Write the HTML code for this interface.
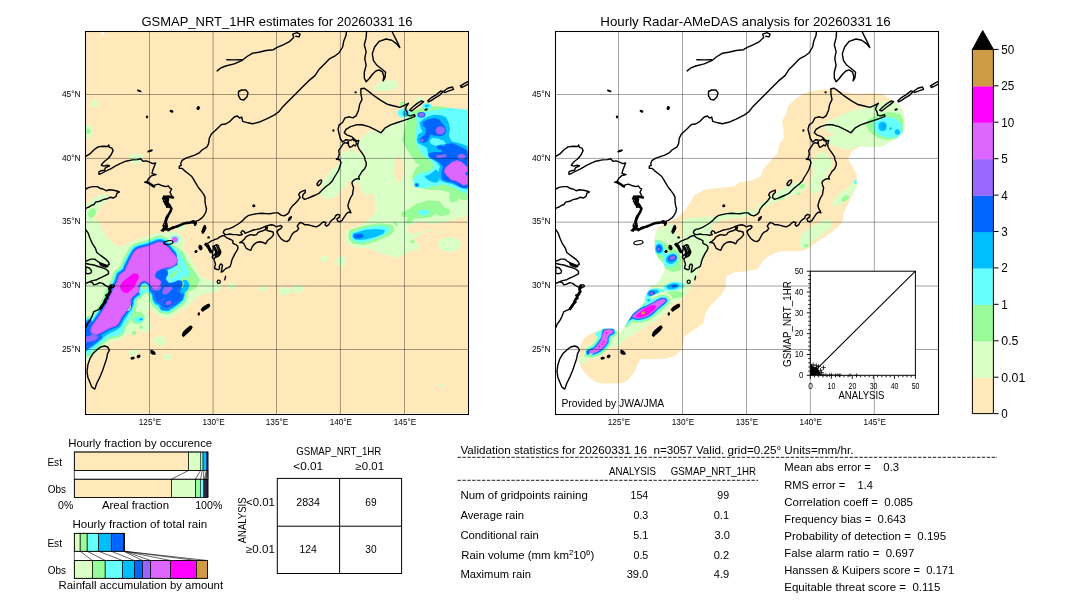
<!DOCTYPE html>
<html><head><meta charset="utf-8"><title>GSMAP_NRT_1HR validation 20260331 16</title>
<style>html,body{margin:0;padding:0;background:#fff}body{width:1080px;height:612px;overflow:hidden;font-family:"Liberation Sans", sans-serif}svg{display:block;will-change:transform;opacity:0.9999}text{white-space:pre}</style>
</head><body>
<svg width="1080" height="612" viewBox="0 0 1080 612" font-family='"Liberation Sans", sans-serif' fill="#000">
<rect width="1080" height="612" fill="#fff"/>
<clipPath id="cl"><rect x="85.5" y="31.5" width="383.0" height="383.0"/></clipPath><clipPath id="cld"><rect x="85.5" y="31.5" width="382.2" height="381.9"/></clipPath>
<clipPath id="cr"><rect x="555.5" y="31.5" width="383.0" height="383.0"/></clipPath>
<rect x="85.5" y="31.5" width="382.2" height="381.9" fill="#ffe8ba"/>
<g clip-path="url(#cld)">
<polygon points="85.5,215.0 92.0,216.0 99.0,222.0 103.0,231.0 110.0,240.0 118.0,247.0 128.0,244.0 140.0,241.0 152.0,237.0 162.0,234.0 172.0,231.0 180.0,233.0 184.0,240.0 184.0,249.0 190.0,258.0 196.0,268.0 200.0,277.0 212.0,281.0 222.0,284.0 220.0,291.0 208.0,293.0 198.0,296.0 192.0,303.0 184.0,309.0 174.0,313.0 165.0,315.0 155.0,313.0 151.0,308.0 148.0,312.0 150.0,320.0 152.0,328.0 146.0,333.0 140.0,331.0 134.0,330.0 128.0,334.0 120.0,338.0 112.0,341.0 104.0,346.0 96.0,352.0 90.0,358.0 85.5,362.0" fill="#d9ffc6"/>
<ellipse cx="160.0" cy="341.0" rx="6.0" ry="5.0" fill="#d9ffc6"/>
<ellipse cx="232.0" cy="286.0" rx="4.0" ry="3.5" fill="#d9ffc6"/>
<ellipse cx="168.0" cy="357.0" rx="4.0" ry="3.0" fill="#d9ffc6"/>
<ellipse cx="133.0" cy="352.5" rx="4.5" ry="3.0" fill="#d9ffc6"/>
<polygon points="119.3,275.0 117.0,281.9 114.2,287.6 110.7,294.4 107.9,301.3 104.4,308.2 99.9,315.0 95.3,321.9 91.9,326.5 90.7,329.9 91.3,333.3 96.4,334.5 102.2,332.2 107.9,328.8 112.5,327.0 117.0,325.3 119.3,321.9 121.6,317.3 125.0,312.7 129.0,308.2 130.8,303.6 130.8,299.6 133.0,296.2 137.0,293.3 139.9,289.9 138.2,285.9 141.0,281.9 144.5,280.9 148.0,282.5 150.3,284.7 152.6,287.6 155.4,289.3 158.3,288.2 160.0,285.3 161.2,281.9 158.9,279.6 155.4,277.9 154.9,274.4 157.2,271.0 161.7,268.7 166.3,267.6 170.9,267.0 174.3,265.3 177.2,261.9 177.6,259.3 175.3,255.9 171.9,251.9 168.5,247.9 164.5,243.9 161.6,242.2 158.2,242.2 153.6,243.9 147.9,246.2 141.0,247.9 136.4,249.6 134.2,251.9 130.7,258.2 127.3,265.0 125.0,270.8" fill="#d9ffc6" stroke="#d9ffc6" stroke-width="19" stroke-linejoin="round"/>
<polygon points="157.2,271.0 161.7,268.7 167.5,269.9 168.0,274.4 165.7,277.9 165.7,281.3 169.7,283.0 174.3,281.9 177.7,280.2 181.7,280.7 182.9,283.6 181.7,287.0 178.9,289.3 176.6,291.6 179.5,292.2 181.7,294.5 180.6,298.5 176.6,301.9 172.0,305.3 167.5,308.2 162.9,307.6 161.2,304.2 162.9,300.8 165.7,298.5 162.9,299.0 159.4,301.3 157.2,301.9 155.4,298.5 154.9,293.9 152.6,290.5 151.4,288.2 155.4,289.3 158.3,288.2 160.0,285.3 161.2,281.9 158.9,279.6 155.4,277.9 154.9,274.4" fill="#d9ffc6" stroke="#d9ffc6" stroke-width="19" stroke-linejoin="round"/>
<polygon points="85.5,326.0 89.0,322.0 92.0,325.5 90.5,330.0 92.0,334.0 97.5,335.5 100.0,337.0 95.0,341.0 90.0,345.0 85.5,348.0" fill="#d9ffc6" stroke="#d9ffc6" stroke-width="19" stroke-linejoin="round"/>
<polygon points="86.0,348.2 90.9,346.3 95.8,342.4 100.7,338.4 105.6,334.5 110.5,332.1 115.4,329.6 119.3,326.7 122.3,322.7 126.2,317.8 129.1,312.9 131.1,310.0 134.0,310.0 131.1,315.9 128.1,320.8 124.2,326.7 122.3,332.5 118.3,335.5 113.4,336.5 108.5,337.5 104.6,340.4 99.7,344.3 94.8,349.2 89.9,353.1 86.0,355.1" fill="#d9ffc6" stroke="#d9ffc6" stroke-width="9" stroke-linejoin="round"/>
<polygon points="119.3,275.0 117.0,281.9 114.2,287.6 110.7,294.4 107.9,301.3 104.4,308.2 99.9,315.0 95.3,321.9 91.9,326.5 90.7,329.9 91.3,333.3 96.4,334.5 102.2,332.2 107.9,328.8 112.5,327.0 117.0,325.3 119.3,321.9 121.6,317.3 125.0,312.7 129.0,308.2 130.8,303.6 130.8,299.6 133.0,296.2 137.0,293.3 139.9,289.9 138.2,285.9 141.0,281.9 144.5,280.9 148.0,282.5 150.3,284.7 152.6,287.6 155.4,289.3 158.3,288.2 160.0,285.3 161.2,281.9 158.9,279.6 155.4,277.9 154.9,274.4 157.2,271.0 161.7,268.7 166.3,267.6 170.9,267.0 174.3,265.3 177.2,261.9 177.6,259.3 175.3,255.9 171.9,251.9 168.5,247.9 164.5,243.9 161.6,242.2 158.2,242.2 153.6,243.9 147.9,246.2 141.0,247.9 136.4,249.6 134.2,251.9 130.7,258.2 127.3,265.0 125.0,270.8" fill="#99fb98" stroke="#99fb98" stroke-width="12.4" stroke-linejoin="round"/>
<polygon points="157.2,271.0 161.7,268.7 167.5,269.9 168.0,274.4 165.7,277.9 165.7,281.3 169.7,283.0 174.3,281.9 177.7,280.2 181.7,280.7 182.9,283.6 181.7,287.0 178.9,289.3 176.6,291.6 179.5,292.2 181.7,294.5 180.6,298.5 176.6,301.9 172.0,305.3 167.5,308.2 162.9,307.6 161.2,304.2 162.9,300.8 165.7,298.5 162.9,299.0 159.4,301.3 157.2,301.9 155.4,298.5 154.9,293.9 152.6,290.5 151.4,288.2 155.4,289.3 158.3,288.2 160.0,285.3 161.2,281.9 158.9,279.6 155.4,277.9 154.9,274.4" fill="#99fb98" stroke="#99fb98" stroke-width="12.4" stroke-linejoin="round"/>
<polygon points="85.5,326.0 89.0,322.0 92.0,325.5 90.5,330.0 92.0,334.0 97.5,335.5 100.0,337.0 95.0,341.0 90.0,345.0 85.5,348.0" fill="#99fb98" stroke="#99fb98" stroke-width="12.4" stroke-linejoin="round"/>
<polygon points="86.0,348.2 90.9,346.3 95.8,342.4 100.7,338.4 105.6,334.5 110.5,332.1 115.4,329.6 119.3,326.7 122.3,322.7 126.2,317.8 129.1,312.9 131.1,310.0 134.0,310.0 131.1,315.9 128.1,320.8 124.2,326.7 122.3,332.5 118.3,335.5 113.4,336.5 108.5,337.5 104.6,340.4 99.7,344.3 94.8,349.2 89.9,353.1 86.0,355.1" fill="#99fb98" stroke="#99fb98" stroke-width="4" stroke-linejoin="round"/>
<polygon points="119.3,275.0 117.0,281.9 114.2,287.6 110.7,294.4 107.9,301.3 104.4,308.2 99.9,315.0 95.3,321.9 91.9,326.5 90.7,329.9 91.3,333.3 96.4,334.5 102.2,332.2 107.9,328.8 112.5,327.0 117.0,325.3 119.3,321.9 121.6,317.3 125.0,312.7 129.0,308.2 130.8,303.6 130.8,299.6 133.0,296.2 137.0,293.3 139.9,289.9 138.2,285.9 141.0,281.9 144.5,280.9 148.0,282.5 150.3,284.7 152.6,287.6 155.4,289.3 158.3,288.2 160.0,285.3 161.2,281.9 158.9,279.6 155.4,277.9 154.9,274.4 157.2,271.0 161.7,268.7 166.3,267.6 170.9,267.0 174.3,265.3 177.2,261.9 177.6,259.3 175.3,255.9 171.9,251.9 168.5,247.9 164.5,243.9 161.6,242.2 158.2,242.2 153.6,243.9 147.9,246.2 141.0,247.9 136.4,249.6 134.2,251.9 130.7,258.2 127.3,265.0 125.0,270.8" fill="#66ffff" stroke="#66ffff" stroke-width="9" stroke-linejoin="round"/>
<polygon points="157.2,271.0 161.7,268.7 167.5,269.9 168.0,274.4 165.7,277.9 165.7,281.3 169.7,283.0 174.3,281.9 177.7,280.2 181.7,280.7 182.9,283.6 181.7,287.0 178.9,289.3 176.6,291.6 179.5,292.2 181.7,294.5 180.6,298.5 176.6,301.9 172.0,305.3 167.5,308.2 162.9,307.6 161.2,304.2 162.9,300.8 165.7,298.5 162.9,299.0 159.4,301.3 157.2,301.9 155.4,298.5 154.9,293.9 152.6,290.5 151.4,288.2 155.4,289.3 158.3,288.2 160.0,285.3 161.2,281.9 158.9,279.6 155.4,277.9 154.9,274.4" fill="#66ffff" stroke="#66ffff" stroke-width="9" stroke-linejoin="round"/>
<polygon points="85.5,326.0 89.0,322.0 92.0,325.5 90.5,330.0 92.0,334.0 97.5,335.5 100.0,337.0 95.0,341.0 90.0,345.0 85.5,348.0" fill="#66ffff" stroke="#66ffff" stroke-width="9" stroke-linejoin="round"/>
<polygon points="86.0,348.2 90.9,346.3 95.8,342.4 100.7,338.4 105.6,334.5 110.5,332.1 115.4,329.6 119.3,326.7 122.3,322.7 126.2,317.8 129.1,312.9 131.1,310.0 134.0,310.0 131.1,315.9 128.1,320.8 124.2,326.7 122.3,332.5 118.3,335.5 113.4,336.5 108.5,337.5 104.6,340.4 99.7,344.3 94.8,349.2 89.9,353.1 86.0,355.1" fill="#66ffff"/>
<polygon points="119.3,275.0 117.0,281.9 114.2,287.6 110.7,294.4 107.9,301.3 104.4,308.2 99.9,315.0 95.3,321.9 91.9,326.5 90.7,329.9 91.3,333.3 96.4,334.5 102.2,332.2 107.9,328.8 112.5,327.0 117.0,325.3 119.3,321.9 121.6,317.3 125.0,312.7 129.0,308.2 130.8,303.6 130.8,299.6 133.0,296.2 137.0,293.3 139.9,289.9 138.2,285.9 141.0,281.9 144.5,280.9 148.0,282.5 150.3,284.7 152.6,287.6 155.4,289.3 158.3,288.2 160.0,285.3 161.2,281.9 158.9,279.6 155.4,277.9 154.9,274.4 157.2,271.0 161.7,268.7 166.3,267.6 170.9,267.0 174.3,265.3 177.2,261.9 177.6,259.3 175.3,255.9 171.9,251.9 168.5,247.9 164.5,243.9 161.6,242.2 158.2,242.2 153.6,243.9 147.9,246.2 141.0,247.9 136.4,249.6 134.2,251.9 130.7,258.2 127.3,265.0 125.0,270.8" fill="#00bfff" stroke="#00bfff" stroke-width="6.2" stroke-linejoin="round"/>
<polygon points="157.2,271.0 161.7,268.7 167.5,269.9 168.0,274.4 165.7,277.9 165.7,281.3 169.7,283.0 174.3,281.9 177.7,280.2 181.7,280.7 182.9,283.6 181.7,287.0 178.9,289.3 176.6,291.6 179.5,292.2 181.7,294.5 180.6,298.5 176.6,301.9 172.0,305.3 167.5,308.2 162.9,307.6 161.2,304.2 162.9,300.8 165.7,298.5 162.9,299.0 159.4,301.3 157.2,301.9 155.4,298.5 154.9,293.9 152.6,290.5 151.4,288.2 155.4,289.3 158.3,288.2 160.0,285.3 161.2,281.9 158.9,279.6 155.4,277.9 154.9,274.4" fill="#00bfff" stroke="#00bfff" stroke-width="6.2" stroke-linejoin="round"/>
<polygon points="85.5,326.0 89.0,322.0 92.0,325.5 90.5,330.0 92.0,334.0 97.5,335.5 100.0,337.0 95.0,341.0 90.0,345.0 85.5,348.0" fill="#00bfff" stroke="#00bfff" stroke-width="6.2" stroke-linejoin="round"/>
<polygon points="86.0,343.3 90.9,342.8 95.8,339.4 99.7,336.5 104.6,333.0 109.5,330.1 114.4,328.1 118.3,325.7 120.3,321.8 124.2,316.9 127.2,312.0 128.1,310.0 130.1,310.0 127.2,315.9 123.7,321.3 121.3,326.2 117.4,329.6 112.5,332.1 107.5,334.5 102.6,337.9 97.7,341.4 92.8,345.3 87.9,347.7 86.0,348.7" fill="#00bfff"/>
<polygon points="119.3,275.0 117.0,281.9 114.2,287.6 110.7,294.4 107.9,301.3 104.4,308.2 99.9,315.0 95.3,321.9 91.9,326.5 90.7,329.9 91.3,333.3 96.4,334.5 102.2,332.2 107.9,328.8 112.5,327.0 117.0,325.3 119.3,321.9 121.6,317.3 125.0,312.7 129.0,308.2 130.8,303.6 130.8,299.6 133.0,296.2 137.0,293.3 139.9,289.9 138.2,285.9 141.0,281.9 144.5,280.9 148.0,282.5 150.3,284.7 152.6,287.6 155.4,289.3 158.3,288.2 160.0,285.3 161.2,281.9 158.9,279.6 155.4,277.9 154.9,274.4 157.2,271.0 161.7,268.7 166.3,267.6 170.9,267.0 174.3,265.3 177.2,261.9 177.6,259.3 175.3,255.9 171.9,251.9 168.5,247.9 164.5,243.9 161.6,242.2 158.2,242.2 153.6,243.9 147.9,246.2 141.0,247.9 136.4,249.6 134.2,251.9 130.7,258.2 127.3,265.0 125.0,270.8" fill="#0066ff" stroke="#0066ff" stroke-width="3.8" stroke-linejoin="round"/>
<polygon points="157.2,271.0 161.7,268.7 167.5,269.9 168.0,274.4 165.7,277.9 165.7,281.3 169.7,283.0 174.3,281.9 177.7,280.2 181.7,280.7 182.9,283.6 181.7,287.0 178.9,289.3 176.6,291.6 179.5,292.2 181.7,294.5 180.6,298.5 176.6,301.9 172.0,305.3 167.5,308.2 162.9,307.6 161.2,304.2 162.9,300.8 165.7,298.5 162.9,299.0 159.4,301.3 157.2,301.9 155.4,298.5 154.9,293.9 152.6,290.5 151.4,288.2 155.4,289.3 158.3,288.2 160.0,285.3 161.2,281.9 158.9,279.6 155.4,277.9 154.9,274.4" fill="#0066ff" stroke="#0066ff" stroke-width="3.8" stroke-linejoin="round"/>
<polygon points="85.5,326.0 89.0,322.0 92.0,325.5 90.5,330.0 92.0,334.0 97.5,335.5 100.0,337.0 95.0,341.0 90.0,345.0 85.5,348.0" fill="#0066ff" stroke="#0066ff" stroke-width="3.8" stroke-linejoin="round"/>
<polygon points="119.3,275.0 117.0,281.9 114.2,287.6 110.7,294.4 107.9,301.3 104.4,308.2 99.9,315.0 95.3,321.9 91.9,326.5 90.7,329.9 91.3,333.3 96.4,334.5 102.2,332.2 107.9,328.8 112.5,327.0 117.0,325.3 119.3,321.9 121.6,317.3 125.0,312.7 129.0,308.2 130.8,303.6 130.8,299.6 133.0,296.2 137.0,293.3 139.9,289.9 138.2,285.9 141.0,281.9 144.5,280.9 148.0,282.5 150.3,284.7 152.6,287.6 155.4,289.3 158.3,288.2 160.0,285.3 161.2,281.9 158.9,279.6 155.4,277.9 154.9,274.4 157.2,271.0 161.7,268.7 166.3,267.6 170.9,267.0 174.3,265.3 177.2,261.9 177.6,259.3 175.3,255.9 171.9,251.9 168.5,247.9 164.5,243.9 161.6,242.2 158.2,242.2 153.6,243.9 147.9,246.2 141.0,247.9 136.4,249.6 134.2,251.9 130.7,258.2 127.3,265.0 125.0,270.8" fill="#9966ff" stroke="#9966ff" stroke-width="1.0" stroke-linejoin="round"/>
<polygon points="157.2,271.0 161.7,268.7 167.5,269.9 168.0,274.4 165.7,277.9 165.7,281.3 169.7,283.0 174.3,281.9 177.7,280.2 181.7,280.7 182.9,283.6 181.7,287.0 178.9,289.3 176.6,291.6 179.5,292.2 181.7,294.5 180.6,298.5 176.6,301.9 172.0,305.3 167.5,308.2 162.9,307.6 161.2,304.2 162.9,300.8 165.7,298.5 162.9,299.0 159.4,301.3 157.2,301.9 155.4,298.5 154.9,293.9 152.6,290.5 151.4,288.2 155.4,289.3 158.3,288.2 160.0,285.3 161.2,281.9 158.9,279.6 155.4,277.9 154.9,274.4" fill="#9966ff" stroke="#9966ff" stroke-width="1.0" stroke-linejoin="round"/>
<polygon points="85.5,326.0 89.0,322.0 92.0,325.5 90.5,330.0 92.0,334.0 97.5,335.5 100.0,337.0 95.0,341.0 90.0,345.0 85.5,348.0" fill="#9966ff" stroke="#9966ff" stroke-width="1.0" stroke-linejoin="round"/>
<polygon points="176.0,246.0 183.0,252.0 188.0,262.0 195.0,272.0 200.0,280.0 196.0,288.0 188.0,292.0 182.0,290.0 180.0,280.0 178.0,270.0 177.0,258.0" fill="#99fb98"/>
<polygon points="176.0,248.0 181.0,254.0 184.0,262.0 189.0,271.0 188.0,278.0 184.0,277.0 181.0,270.0 178.0,262.0" fill="#66ffff"/>
<polygon points="166.0,270.0 172.0,268.0 177.0,265.0 180.0,270.0 183.0,276.0 180.0,281.0 174.0,283.0 169.0,283.0 166.0,279.0 167.0,274.0" fill="#66ffff"/>
<polygon points="169.0,277.0 173.0,272.5 177.0,270.0 178.0,272.0 174.5,275.5 171.0,279.5" fill="#99fb98"/>
<polygon points="139.0,289.0 142.0,284.0 145.5,283.0 149.0,286.0 148.0,291.0 143.0,294.0 139.0,293.0" fill="#66ffff"/>
<ellipse cx="144.5" cy="287.5" rx="2.6" ry="2.2" fill="#99fb98"/>
<ellipse cx="137.5" cy="318.0" rx="7.0" ry="6.5" fill="#99fb98"/>
<ellipse cx="138.5" cy="319.5" rx="4.6" ry="3.2" fill="#66ffff"/>
<ellipse cx="141.2" cy="319.3" rx="1.6" ry="1.2" fill="#00bfff"/>
<ellipse cx="134.0" cy="333.0" rx="2.2" ry="2.2" fill="#99fb98"/>
<ellipse cx="141.0" cy="327.0" rx="2.0" ry="1.8" fill="#99fb98"/>
<ellipse cx="128.0" cy="306.0" rx="3.0" ry="5.0" fill="#99fb98"/>
<polygon points="182.5,280.0 186.5,280.0 189.5,284.0 188.5,289.0 185.0,292.5 181.0,294.0 180.0,291.0 183.0,287.0 184.0,283.5" fill="#00bfff"/>
<polygon points="153.0,296.0 156.0,303.0 160.0,306.5 166.0,309.5 171.0,308.5 176.0,305.0 172.0,307.0 166.0,309.0 161.0,306.0 157.0,303.0" fill="#00bfff"/>
<polygon points="85.5,326.0 89.0,322.0 92.0,325.5 90.5,330.0 92.0,334.0 97.5,335.5 100.0,337.0 95.0,341.0 90.0,345.0 85.5,348.0" fill="#0066ff"/>
<polygon points="85.5,336.6 89.0,336.0 92.0,334.6 95.0,335.0 98.0,336.5 96.5,339.5 91.5,341.6 85.5,342.6" fill="#9966ff"/>
<polygon points="157.2,271.0 161.7,268.7 167.5,269.9 168.0,274.4 165.7,277.9 165.7,281.3 169.7,283.0 174.3,281.9 177.7,280.2 181.7,280.7 182.9,283.6 181.7,287.0 178.9,289.3 176.6,291.6 179.5,292.2 181.7,294.5 180.6,298.5 176.6,301.9 172.0,305.3 167.5,308.2 162.9,307.6 161.2,304.2 162.9,300.8 165.7,298.5 162.9,299.0 159.4,301.3 157.2,301.9 155.4,298.5 154.9,293.9 152.6,290.5 151.4,288.2 155.4,289.3 158.3,288.2 160.0,285.3 161.2,281.9 158.9,279.6 155.4,277.9 154.9,274.4" fill="#0066ff"/>
<polygon points="119.3,275.0 117.0,281.9 114.2,287.6 110.7,294.4 107.9,301.3 104.4,308.2 99.9,315.0 95.3,321.9 91.9,326.5 90.7,329.9 91.3,333.3 96.4,334.5 102.2,332.2 107.9,328.8 112.5,327.0 117.0,325.3 119.3,321.9 121.6,317.3 125.0,312.7 129.0,308.2 130.8,303.6 130.8,299.6 133.0,296.2 137.0,293.3 139.9,289.9 138.2,285.9 141.0,281.9 144.5,280.9 148.0,282.5 150.3,284.7 152.6,287.6 155.4,289.3 158.3,288.2 160.0,285.3 161.2,281.9 158.9,279.6 155.4,277.9 154.9,274.4 157.2,271.0 161.7,268.7 166.3,267.6 170.9,267.0 174.3,265.3 177.2,261.9 177.6,259.3 175.3,255.9 171.9,251.9 168.5,247.9 164.5,243.9 161.6,242.2 158.2,242.2 153.6,243.9 147.9,246.2 141.0,247.9 136.4,249.6 134.2,251.9 130.7,258.2 127.3,265.0 125.0,270.8" fill="#dd66ff" stroke="#9966ff" stroke-width="0.9" stroke-linejoin="round"/>
<polygon points="164.6,287.0 172.0,286.5 172.6,288.7 170.3,291.6 166.9,294.5 162.9,294.5 162.3,291.6 163.4,288.7" fill="#9966ff"/>
<ellipse cx="168.6" cy="302.8" rx="3.0" ry="2.0" fill="#9966ff" transform="rotate(-20 168.6 302.8)"/>
<polygon points="152.6,287.6 155.4,289.3 158.3,288.2 160.4,285.6 161.5,288.0 159.0,290.6 155.0,291.0 152.5,289.5" fill="#9966ff"/>
<polygon points="130.8,275.0 134.0,273.2 138.1,274.0 138.9,278.1 136.2,282.2 134.4,286.8 131.2,290.2 127.3,293.1 123.9,292.7 121.0,289.9 119.9,286.4 121.6,283.0 124.5,280.1 128.5,277.3" fill="#ff00ff"/>
<ellipse cx="174.8" cy="239.6" rx="5.2" ry="5.0" fill="#d9ffc6"/>
<ellipse cx="174.8" cy="239.6" rx="4.2" ry="4.0" fill="#66ffff"/>
<ellipse cx="174.8" cy="239.6" rx="2.9" ry="2.8" fill="#dd66ff"/>
<polygon points="381.4,131.9 389.7,125.0 398.1,120.8 405.0,115.3 413.3,111.1 424.4,108.3 441.1,108.3 470.0,109.7 470.0,222.2 463.3,225.0 452.2,230.6 441.1,233.3 432.8,230.6 421.7,233.3 413.3,238.9 413.3,250.0 405.0,254.2 396.7,258.3 389.7,255.6 389.7,245.8 380.0,244.4 368.9,245.8 357.8,244.4 350.8,240.3 349.4,233.3 355.0,227.8 363.3,225.0 368.9,219.4 370.3,208.3 367.5,197.2 360.6,188.9 357.8,180.6 363.3,175.0 366.1,163.9 363.3,152.8 357.8,145.8 360.6,138.9 366.1,133.3 374.4,129.2" fill="#d9ffc6"/>
<polygon points="341.0,153.0 352.0,149.0 364.0,156.0 366.0,178.0 356.0,183.0 344.0,180.0 337.0,170.0" fill="#d9ffc6"/>
<polygon points="330.0,170.0 338.0,168.0 340.0,182.0 334.0,186.0 330.0,184.0" fill="#d9ffc6"/>
<ellipse cx="341.0" cy="261.0" rx="5.0" ry="5.5" fill="#d9ffc6"/>
<ellipse cx="449.4" cy="244.4" rx="11.4" ry="7.5" fill="#d9ffc6"/>
<ellipse cx="441.8" cy="385.0" rx="2.4" ry="1.8" fill="#d9ffc6"/>
<polygon points="373.5,88.0 378.0,83.0 386.0,80.5 394.0,80.2 398.6,83.0 397.0,88.0 390.0,90.5 382.0,91.6 376.0,91.0" fill="#d9ffc6"/>
<ellipse cx="398.9" cy="169.4" rx="4.6" ry="13.0" fill="#ffe8ba"/>
<ellipse cx="371.0" cy="205.0" rx="4.0" ry="12.0" fill="#ffe8ba"/>
<polygon points="408.0,226.0 420.0,222.0 432.0,224.0 445.0,222.0 458.0,218.0 470.0,216.0 470.0,224.0 456.0,230.0 440.0,232.0 428.0,230.0 414.0,234.0 408.0,232.0" fill="#ffe8ba"/>
<ellipse cx="413.0" cy="246.0" rx="6.0" ry="5.0" fill="#d9ffc6"/>
<ellipse cx="397.0" cy="238.0" rx="5.0" ry="5.0" fill="#d9ffc6"/>
<polygon points="412.0,112.0 420.0,108.0 436.0,106.0 452.0,108.0 469.0,110.0 469.0,200.0 462.0,200.0 455.0,196.0 448.0,192.0 440.0,190.0 430.0,190.0 420.0,188.0 414.0,184.0 412.0,178.0 416.0,172.0 424.0,166.0 420.0,162.0 414.0,160.0 410.0,154.0 406.0,148.0 402.0,140.0 404.0,132.0 406.0,124.0 408.0,116.0" fill="#99fb98"/>
<polygon points="400.9,212.9 407.8,209.5 416.9,203.8 428.4,200.3 439.8,201.5 444.4,207.2 450.1,209.5 449.0,214.1 442.1,216.4 435.2,214.1 430.7,217.5 421.5,218.6 414.6,218.6 410.1,223.2 405.5,223.2 407.8,217.5 402.1,216.4" fill="#99fb98"/>
<polygon points="450.0,192.0 456.0,190.0 461.0,194.0 457.0,201.0 451.0,203.0 449.0,198.0" fill="#99fb98"/>
<ellipse cx="394.0" cy="224.5" rx="3.5" ry="3.0" fill="#99fb98"/>
<ellipse cx="412.4" cy="241.5" rx="2.0" ry="2.0" fill="#99fb98"/>
<polygon points="414.0,160.0 420.0,158.0 428.0,160.0 433.0,164.0 432.0,170.0 426.0,172.0 418.0,176.0 414.0,182.0 412.0,176.0 416.0,168.0 420.0,165.0 416.0,163.0" fill="#99fb98"/>
<polygon points="416.0,116.0 424.0,112.0 436.0,110.0 448.0,108.0 460.0,109.0 469.0,110.0 469.0,194.0 462.0,192.0 455.0,188.0 448.0,186.0 443.0,184.0 438.0,186.0 432.0,186.0 425.0,188.0 418.0,188.0 414.0,184.0 414.0,178.0 418.0,174.0 425.0,172.0 432.0,170.0 434.0,166.0 432.0,162.0 426.0,158.0 422.0,154.0 418.0,148.0 416.0,142.0 415.0,134.0 417.0,126.0" fill="#66ffff"/>
<ellipse cx="423.7" cy="212.4" rx="5.5" ry="3.0" fill="#66ffff"/>
<ellipse cx="404.0" cy="113.0" rx="6.5" ry="4.5" fill="#66ffff"/>
<ellipse cx="405.5" cy="113.5" rx="3.0" ry="3.0" fill="#00bfff"/>
<ellipse cx="403.0" cy="104.0" rx="3.0" ry="2.6" fill="#99fb98"/>
<ellipse cx="427.0" cy="106.5" rx="4.8" ry="3.4" fill="#66ffff"/>
<ellipse cx="427.0" cy="105.8" rx="2.4" ry="1.4" fill="#00bfff"/>
<ellipse cx="420.0" cy="99.5" rx="4.0" ry="2.4" fill="#d9ffc6"/>
<polygon points="419.4,122.7 422.7,119.4 429.2,116.1 434.4,114.8 442.3,115.5 446.2,117.4 448.8,122.7 450.1,129.2 448.8,135.8 451.4,141.0 455.4,142.3 462.0,144.0 469.0,147.0 469.0,190.0 463.0,188.5 458.0,186.5 452.0,184.0 446.0,182.8 441.0,181.0 438.5,176.0 438.8,170.0 440.0,166.5 437.0,162.5 433.0,160.0 429.5,157.5 428.0,154.0 427.9,152.7 426.6,147.5 422.7,145.6 418.1,143.6 416.8,139.7 418.1,134.4 422.7,131.8 420.7,127.9" fill="#00bfff"/>
<polygon points="435.8,169.6 439.0,172.2 439.7,180.1 436.4,182.7 431.8,182.0 427.3,179.4 424.2,176.1 429.2,174.8 432.5,172.2" fill="#00bfff"/>
<ellipse cx="416.8" cy="185.0" rx="2.4" ry="2.2" fill="#00bfff"/>
<ellipse cx="416.8" cy="185.0" rx="1.3" ry="1.2" fill="#0066ff"/>
<polygon points="432.0,138.0 438.0,138.5 444.0,141.0 446.0,144.0 441.0,144.5 436.0,146.0 431.0,144.0 429.5,141.0" fill="#66ffff"/>
<polygon points="422.7,122.0 427.9,119.4 434.4,118.1 439.7,119.4 441.6,122.7 444.9,126.6 446.2,131.8 444.2,135.1 439.7,136.4 434.4,135.8 430.5,134.4 429.2,137.1 427.9,141.0 424.0,142.9 420.7,142.3 419.4,139.7 421.4,137.1 424.6,135.1 425.9,131.2 425.3,127.9 422.7,125.3" fill="#0066ff"/>
<ellipse cx="421.4" cy="114.8" rx="4.0" ry="2.9" fill="#0066ff"/>
<polygon points="436.4,146.2 440.3,144.9 443.6,146.2 446.2,144.2 451.4,142.9 456.7,144.9 461.9,147.5 466.5,150.1 469.0,152.7 469.0,187.9 461.9,187.9 458.0,185.9 454.1,183.3 450.1,182.0 446.2,181.4 442.3,179.4 441.0,175.5 441.6,170.9 442.9,167.0 439.7,163.1 435.8,160.5 431.8,158.5 428.6,156.5 427.9,153.9 431.8,156.7 431.8,156.7 435.8,154.1 441.0,152.1 442.3,150.1 438.4,149.5" fill="#0066ff"/>
<polygon points="428.0,153.8 432.0,152.2 437.0,152.0 441.0,152.1 436.0,155.0 432.0,157.0" fill="#0066ff"/>
<ellipse cx="440.3" cy="130.5" rx="4.6" ry="4.2" fill="#9966ff"/>
<ellipse cx="422.0" cy="140.3" rx="1.6" ry="1.5" fill="#9966ff"/>
<ellipse cx="421.4" cy="114.8" rx="2.9" ry="2.0" fill="#9966ff"/>
<polygon points="436.4,155.2 446.2,154.2 446.5,156.8 440.0,158.0 436.5,157.6" fill="#9966ff"/>
<polygon points="458.0,155.0 462.0,153.6 465.5,155.5 465.0,158.5 460.0,159.6 457.5,158.0" fill="#9966ff"/>
<polygon points="451.4,162.4 456.7,160.5 461.2,161.8 464.5,164.4 467.1,167.0 469.0,168.0 469.0,184.0 463.2,185.3 459.3,182.7 455.4,180.7 451.4,180.1 448.8,177.5 446.2,174.8 444.2,171.6 445.6,167.6 448.8,165.0" fill="#dd66ff" stroke="#9966ff" stroke-width="1.0" stroke-linejoin="round"/>
<ellipse cx="467.5" cy="173.5" rx="2.0" ry="2.0" fill="#0066ff"/>
<polygon points="346.0,231.0 364.0,223.5 380.0,221.0 393.0,222.0 398.0,229.0 398.0,237.0 404.0,243.0 402.0,251.0 392.0,256.0 382.0,254.0 372.0,249.0 362.0,248.0 352.0,247.0 345.0,241.0" fill="#d9ffc6"/>
<polygon points="349.4,230.1 364.3,225.5 380.3,223.2 391.8,224.4 395.2,230.1 389.5,235.8 375.8,241.5 364.3,244.9 352.9,243.8 348.3,238.1" fill="#99fb98"/>
<polygon points="351.7,232.4 364.3,227.8 378.0,225.5 388.3,226.6 389.5,231.2 382.6,235.8 371.2,240.4 362.0,242.7 354.0,241.5 350.6,238.1" fill="#66ffff"/>
<polygon points="352.9,233.5 364.3,230.1 375.8,228.9 384.9,230.1 383.8,233.5 375.8,236.9 364.3,239.7 355.2,239.7 352.4,236.9" fill="#00bfff"/>
<polygon points="354.0,234.6 362.0,233.5 364.3,236.5 359.7,238.8 354.0,238.0" fill="#0066ff"/>
<ellipse cx="285.0" cy="291.0" rx="6.5" ry="4.0" fill="#d9ffc6"/>
<ellipse cx="298.0" cy="289.0" rx="5.5" ry="4.0" fill="#d9ffc6"/>
<ellipse cx="262.5" cy="288.5" rx="4.0" ry="3.0" fill="#d9ffc6"/>
<polygon points="322.0,182.0 330.0,172.0 338.0,165.0 346.0,160.0 352.0,166.0 350.0,178.0 344.0,188.0 336.0,196.0 326.0,200.0 320.0,194.0" fill="#d9ffc6"/>
<ellipse cx="94.2" cy="103.7" rx="3.4" ry="3.4" fill="#d9ffc6"/>
<ellipse cx="88.4" cy="131.2" rx="4.0" ry="7.0" fill="#d9ffc6"/>
<ellipse cx="88.2" cy="131.2" rx="2.4" ry="2.6" fill="#99fb98"/>
<ellipse cx="136.5" cy="158.6" rx="8.0" ry="5.2" fill="#d9ffc6"/>
<ellipse cx="324.2" cy="258.6" rx="3.6" ry="3.2" fill="#d9ffc6"/>
<polygon points="85.0,204.4 91.9,199.8 98.7,195.2 106.7,194.1 110.2,197.5 105.6,202.1 101.0,206.7 96.4,213.5 91.9,219.3 85.0,221.6" fill="#d9ffc6"/>
<ellipse cx="92.0" cy="213.0" rx="3.6" ry="5.0" fill="#99fb98" transform="rotate(25 92.0 213.0)"/>
<ellipse cx="180.0" cy="227.5" rx="6.0" ry="3.4" fill="#d9ffc6"/>
<polygon points="100.3,31.5 105.2,31.5 102.7,35.2" fill="#fff"/>
</g>
<g clip-path="url(#cl)">
<line x1="149.5" y1="31.5" x2="149.5" y2="414.5" stroke="#000" stroke-width="1.0" stroke-opacity="0.36"/>
<line x1="213.1" y1="31.5" x2="213.1" y2="414.5" stroke="#000" stroke-width="1.0" stroke-opacity="0.36"/>
<line x1="276.5" y1="31.5" x2="276.5" y2="414.5" stroke="#000" stroke-width="1.0" stroke-opacity="0.36"/>
<line x1="340.4" y1="31.5" x2="340.4" y2="414.5" stroke="#000" stroke-width="1.0" stroke-opacity="0.36"/>
<line x1="404.5" y1="31.5" x2="404.5" y2="414.5" stroke="#000" stroke-width="1.0" stroke-opacity="0.36"/>
<line x1="85.5" y1="94.5" x2="468.5" y2="94.5" stroke="#000" stroke-width="1.0" stroke-opacity="0.36"/>
<line x1="85.5" y1="158.4" x2="468.5" y2="158.4" stroke="#000" stroke-width="1.0" stroke-opacity="0.36"/>
<line x1="85.5" y1="222.2" x2="468.5" y2="222.2" stroke="#000" stroke-width="1.0" stroke-opacity="0.36"/>
<line x1="85.5" y1="286.0" x2="468.5" y2="286.0" stroke="#000" stroke-width="1.0" stroke-opacity="0.36"/>
<line x1="85.5" y1="349.5" x2="468.5" y2="349.5" stroke="#000" stroke-width="1.0" stroke-opacity="0.36"/>
<g transform="translate(-470 0)">
<path d="M555.8 156.3 L559.9 153.9 L564.0 149.8 L568.1 146.9 L573.0 146.2 L577.9 146.5 L578.7 144.9 L579.5 147.4 L582.0 148.2 L583.1 150.6 L581.1 154.7 L577.9 158.8 L574.6 161.2 L572.2 163.7 L571.3 165.3 L573.8 166.1 L577.1 165.3 L579.5 165.8 L575.4 167.8 L574.6 170.2 L571.3 170.7 L568.9 171.9 L568.9 174.3 L571.3 173.5 L576.2 171.0 L581.1 168.6 L585.2 166.1 L590.1 163.7 L595.8 161.2 L602.4 159.9 L607.3 159.6 L610.6 158.8 L613.0 161.2 L616.3 160.9 L619.5 162.1 L622.8 163.7 L625.6 162.9 L624.4 166.1 L622.8 170.2 L622.0 173.5 L626.1 174.6 L621.2 175.9 L618.7 178.4 L617.1 181.7 L614.6 182.2 L617.9 182.8 L620.4 184.1 L622.8 186.6 L625.3 184.9 L628.5 184.1 L632.6 185.8 L635.9 186.6 L638.3 185.8 L640.0 188.2 L641.6 189.0 L640.0 192.3 L642.4 197.2 L640.0 196.4 L636.7 197.2 L634.2 198.8 L633.4 201.3 L635.9 202.9 L636.7 205.4 L638.3 207.0 L641.6 207.8 L640.0 211.9 L638.3 215.2 L635.9 218.4 L635.1 221.7 L636.7 223.3 L635.9 226.6 L633.4 229.5 L635.9 229.9 L639.2 229.1 L642.6 228.5 L645.6 227.2 L648.5 226.5 L650.7 225.0 L652.9 224.3 L655.1 222.8 L658.1 223.5 L660.3 222.1 L662.5 222.8 L664.7 223.5 L665.4 221.3 L668.4 220.3 L671.3 218.4 L673.5 216.2 L675.7 212.5 L676.5 208.8 L675.7 205.9 L675.0 201.5 L675.0 197.1 L673.5 194.1 L671.3 191.2 L668.4 187.5 L666.2 183.8 L664.0 180.1 L661.8 176.5 L658.1 173.5 L654.4 170.6 L652.2 168.4 L649.3 168.4 L649.3 166.2 L651.2 165.4 L650.7 163.2 L652.2 160.3 L655.9 158.1 L660.3 156.6 L664.7 155.1 L669.1 152.9 L672.0 150.0 L677.1 146.8 L678.6 143.6 L679.3 138.3 L681.4 134.0 L685.0 130.8 L687.2 128.7 L691.5 124.5 L695.7 124.0 L700.0 121.3 L704.2 117.0 L707.4 116.0 L709.6 118.1 L711.7 117.0 L712.7 121.3 L718.0 122.8 L722.3 123.8 L728.7 122.3 L736.1 119.1 L744.6 114.9 L748.8 111.7 L753.1 106.4 L759.5 100.0 L765.8 93.7 L772.2 87.3 L778.6 80.9 L785.0 75.6 L789.2 69.2 L794.5 63.9 L799.8 58.6 L804.6 56.2 L809.2 52.7 L812.6 47.0 L813.7 41.3 L816.0 35.6 L816.5 31.0" fill="none" stroke="#000" stroke-width="1.4" stroke-linejoin="round" stroke-linecap="round"/>
<path d="M636.7 197.2 L635.5 199.5 L637.2 201.5 L635.2 203.4 L637.6 205.0 L636.5 207.3" fill="none" stroke="#000" stroke-width="1.4" stroke-linejoin="round" stroke-linecap="round"/>
<path d="M634.0 223.5 L633.0 226.0 L634.8 227.6 L632.8 229.3 L631.2 230.6 L633.4 231.0" fill="none" stroke="#000" stroke-width="1.4" stroke-linejoin="round" stroke-linecap="round"/>
<path d="M637.4 215.0 L635.9 217.9 L635.1 221.6 L636.6 223.8 L634.4 226.0 L632.9 229.0 L635.1 229.7 L637.4 228.2 L639.6 229.7 L641.8 227.5 L645.0 226.8" fill="none" stroke="#000" stroke-width="1.4" stroke-linejoin="round" stroke-linecap="round"/>
<path d="M555.8 189.0 L559.1 187.4 L563.2 186.6 L567.3 186.6 L569.7 188.2 L573.0 189.0 L576.2 190.7 L579.5 189.8 L583.6 190.3 L586.9 191.0 L589.3 192.0 L586.9 193.1 L586.0 196.4 L583.6 198.0 L580.3 197.2 L577.1 198.8 L573.0 199.6 L569.7 201.3 L565.6 202.1 L564.0 204.5 L561.5 205.4 L559.1 207.0 L556.6 207.8 L555.0 209.4" fill="none" stroke="#000" stroke-width="1.4" stroke-linejoin="round" stroke-linecap="round"/>
<path d="M555.0 229.0 L555.7 229.7 L557.9 232.6 L560.1 238.5 L562.4 243.7 L565.3 248.1 L566.8 252.5 L569.7 254.7 L572.6 256.9 L575.6 259.1 L578.5 262.1 L579.3 264.3 L577.1 265.7 L574.1 264.3 L570.4 262.8 L567.5 261.3 L564.6 259.1 L560.9 259.1 L557.2 260.6 L555.7 261.3" fill="none" stroke="#000" stroke-width="1.4" stroke-linejoin="round" stroke-linecap="round"/>
<path d="M555.7 263.5 L559.4 264.3 L563.8 265.0 L568.2 266.5 L572.6 267.9 L576.3 269.4 L578.5 271.6 L578.5 273.8 L575.6 275.3 L572.6 276.8 L569.7 278.2 L566.8 279.7 L563.8 280.4 L560.9 281.2 L557.9 282.6 L555.7 283.4 L559.4 281.9 L562.4 282.6 L563.8 284.9 L566.8 284.1 L569.7 282.6 L572.6 283.4 L575.6 285.6 L578.5 287.1 L580.7 284.9 L583.7 284.9 L584.4 286.3 L581.5 287.8 L579.3 289.3 L580.0 292.2 L577.8 294.4 L575.6 295.1 L577.1 297.4 L574.9 299.6 L574.1 301.8 L573.6 302.8 L570.7 306.8 L568.7 309.7 L563.8 311.7 L561.9 316.6 L559.9 320.5 L557.0 324.4 L556.0 327.4" fill="none" stroke="#000" stroke-width="1.4" stroke-linejoin="round" stroke-linecap="round"/>
<path d="M580.5 286.5 L578.8 289.0 L580.6 290.8 L578.5 292.6 L579.6 294.6 L577.0 296.2 L578.0 298.4 L575.4 300.2 L576.0 302.4 L573.2 304.0 L572.6 306.6 L570.0 308.0" fill="none" stroke="#000" stroke-width="1.4" stroke-linejoin="round" stroke-linecap="round"/>
<path d="M687.2 70.9 L690.4 68.2 L695.7 66.0 L704.2 63.9 L711.7 60.7 L717.0 56.5 L722.3 53.3 L728.7 52.2 L736.1 50.5 L743.5 49.7 L746.7 47.6 L753.1 44.8 L759.5 41.6 L763.7 37.4 L762.7 34.2 L766.9 32.7 L770.1 34.2 L769.0 36.9 L765.8 36.3" fill="none" stroke="#000" stroke-width="1.4" stroke-linejoin="round" stroke-linecap="round"/>
<path d="M696.8 59.7 L704.0 59.9 L711.7 59.7" fill="none" stroke="#000" stroke-width="1.4" stroke-linejoin="round" stroke-linecap="round"/>
<path d="M836.6 31.0 L836.1 37.9 L834.3 44.7 L836.1 51.6 L834.8 58.5 L836.1 65.3 L834.3 72.2 L834.3 77.9 L836.1 81.8 L838.9 79.0 L842.3 74.5 L845.8 71.0 L849.2 69.9 L852.6 72.2 L853.8 76.8 L853.1 80.9 L854.9 77.9 L855.6 72.2 L851.5 68.7 L846.9 65.3 L843.5 60.7 L842.3 53.9 L844.6 47.0 L849.2 41.3 L856.1 39.0 L861.8 40.2 L866.3 43.6 L869.8 47.5 L867.5 42.4 L865.2 37.9 L862.9 33.3 L861.8 31.0" fill="none" stroke="#000" stroke-width="1.4" stroke-linejoin="round" stroke-linecap="round"/>
<path d="M683.9 246.8 L685.1 249.2 L685.9 251.7 L685.1 254.1 L683.5 255.8" fill="none" stroke="#000" stroke-width="1.4" stroke-linejoin="round" stroke-linecap="round"/>
<path d="M686.3 245.6 L687.6 248.0 L688.4 250.5 L688.4 252.9 L686.7 255.0" fill="none" stroke="#000" stroke-width="1.4" stroke-linejoin="round" stroke-linecap="round"/>
<path d="M682.3 252.5 L682.7 255.0 L682.3 257.4 L683.1 258.6" fill="none" stroke="#000" stroke-width="1.4" stroke-linejoin="round" stroke-linecap="round"/>
<path d="M676.1 243.9 L677.8 244.7 L679.0 246.4 L679.8 248.4 L681.0 250.1 L682.3 251.7" fill="none" stroke="#000" stroke-width="1.4" stroke-linejoin="round" stroke-linecap="round"/>
<path d="M675.3 244.3 L676.5 246.4 L678.2 248.4 L679.4 250.9" fill="none" stroke="#000" stroke-width="1.4" stroke-linejoin="round" stroke-linecap="round"/>
<path d="M684.7 247.6 L686.3 250.1 L687.2 252.5 L686.3 254.6" fill="none" stroke="#000" stroke-width="1.4" stroke-linejoin="round" stroke-linecap="round"/>
<path d="M689.6 250.9 L689.6 253.3 L688.4 255.4" fill="none" stroke="#000" stroke-width="1.4" stroke-linejoin="round" stroke-linecap="round"/>
<path d="M569.7 263.5 L574.1 265.0 L577.8 266.5 L575.6 267.2 L571.2 265.7 Z" fill="none" stroke="#000" stroke-width="1.4" stroke-linejoin="round" stroke-linecap="round"/>
<path d="M555.8 266.8 L559.4 268.0 L561.6 270.9 L560.9 273.1 L557.9 273.8 L555.7 273.1 Z" fill="none" stroke="#000" stroke-width="1.4" stroke-linejoin="round" stroke-linecap="round"/>
<path d="M574.6 346.0 L577.5 347.0 L579.5 349.9 L577.5 353.8 L576.6 358.7 L574.6 364.6 L572.6 370.5 L569.7 377.4 L566.8 383.2 L564.8 389.1 L561.9 387.2 L559.9 382.3 L557.9 377.4 L557.0 371.5 L557.9 364.6 L559.9 358.7 L562.8 353.8 L566.8 349.9 L570.7 347.0 Z" fill="none" stroke="#000" stroke-width="1.4" stroke-linejoin="round" stroke-linecap="round"/>
<path d="M708.5 91.5 L711.7 90.0 L715.9 90.0 L718.0 92.6 L717.0 96.8 L713.8 100.0 L710.6 99.4 L708.5 95.8 Z" fill="none" stroke="#000" stroke-width="1.4" stroke-linejoin="round" stroke-linecap="round"/>
<path d="M830.9 88.7 L834.3 88.2 L838.9 91.6 L844.6 96.2 L851.5 100.8 L857.2 104.2 L864.1 106.0 L869.8 107.4 L873.9 105.7 L878.4 103.3 L876.4 106.5 L875.5 109.0 L877.2 112.3 L877.6 115.1 L880.4 115.9 L884.5 114.7 L885.0 116.3 L881.2 117.9 L877.8 119.1 L873.2 120.7 L867.5 122.5 L860.6 124.8 L854.9 128.2 L851.0 132.8 L846.5 130.4 L838.9 126.6 L832.0 124.8 L826.3 124.8 L820.6 126.6 L816.0 129.4 L814.2 132.8 L817.2 135.1 L821.7 136.7 L824.0 138.5 L820.6 140.4 L816.0 139.7 L812.6 142.0 L810.3 138.5 L809.2 134.0 L808.0 129.4 L809.2 124.8 L812.6 122.5 L814.9 117.9 L819.4 116.8 L822.9 117.9 L826.3 115.6 L828.6 109.9 L829.7 104.2 L832.0 99.6 L830.9 93.9 Z" fill="none" stroke="#000" stroke-width="1.4" stroke-linejoin="round" stroke-linecap="round"/>
<path d="M879.6 110.2 L882.5 107.2 L886.9 103.6 L891.5 100.9 L893.6 101.6 L890.4 104.4 L885.8 107.8 L881.8 111.0 Z" fill="none" stroke="#000" stroke-width="1.4" stroke-linejoin="round" stroke-linecap="round"/>
<path d="M897.9 100.8 L901.8 97.3 L906.4 94.6 L911.0 90.9 L913.2 91.6 L909.8 95.1 L905.2 97.8 L900.7 100.8 L898.4 101.9 Z" fill="none" stroke="#000" stroke-width="1.4" stroke-linejoin="round" stroke-linecap="round"/>
<path d="M913.6 91.2 L917.8 88.2 L922.4 87.0 L923.5 89.3 L919.0 90.9 L914.4 92.6 Z" fill="none" stroke="#000" stroke-width="1.4" stroke-linejoin="round" stroke-linecap="round"/>
<path d="M930.4 85.9 L935.0 83.2 L938.4 81.3 L939.1 83.6 L935.0 85.9 L931.5 87.5 Z" fill="none" stroke="#000" stroke-width="1.4" stroke-linejoin="round" stroke-linecap="round"/>
<path d="M694.0 230.7 L695.9 229.4 L699.2 228.7 L702.5 227.4 L705.7 225.5 L709.0 223.5 L712.3 220.9 L715.5 217.6 L718.1 215.7 L722.0 214.6 L727.0 213.6 L732.0 213.2 L736.0 213.6 L740.0 213.7 L744.4 212.9 L748.1 212.9 L751.0 215.1 L754.0 215.9 L756.9 214.4 L759.1 212.2 L759.9 209.3 L762.1 206.3 L765.0 203.4 L767.9 200.4 L770.1 197.5 L768.7 194.6 L770.1 192.4 L773.1 190.9 L775.3 190.1 L775.3 192.4 L773.1 194.6 L772.4 197.5 L774.6 199.4 L778.2 198.2 L781.9 196.5 L785.6 195.0 L789.3 193.1 L792.2 190.1 L795.1 187.2 L799.6 183.8 L802.4 180.9 L804.2 177.5 L806.4 174.0 L808.7 170.0 L809.9 166.6 L811.0 162.6 L809.9 159.7 L806.4 159.2 L808.2 158.0 L809.3 154.0 L808.7 150.6 L811.0 147.2 L813.3 143.7 L815.0 142.6 L817.3 143.2 L818.4 141.4 L818.4 144.9 L819.6 147.2 L821.9 146.6 L823.6 144.9 L825.3 146.0 L826.5 143.7 L825.9 141.4 L824.2 140.6 L822.5 139.2 L824.7 139.7 L827.0 140.9 L828.7 140.3 L828.2 142.6 L827.6 144.9 L828.2 147.2 L829.3 149.4 L831.0 151.7 L832.7 154.0 L834.5 156.9 L835.0 159.7 L836.2 162.6 L836.2 165.5 L834.5 168.9 L832.2 171.2 L830.5 174.0 L828.7 176.9 L829.3 179.2 L827.6 178.6 L825.3 179.2 L823.0 180.9 L821.9 182.6 L822.5 184.9 L823.6 187.8 L823.0 191.2 L822.5 194.6 L820.7 197.5 L819.6 200.0 L818.7 202.6 L817.9 205.6 L818.7 208.5 L820.1 210.7 L820.9 212.9 L818.7 212.2 L816.5 213.7 L815.0 215.9 L813.5 218.1 L812.1 220.3 L809.9 221.8 L807.6 221.0 L806.9 218.8 L809.1 217.4 L809.9 215.1 L807.6 214.4 L805.4 215.9 L804.7 218.1 L802.5 219.6 L800.3 221.8 L798.8 224.7 L796.6 226.2 L795.1 224.7 L795.9 222.5 L793.7 221.8 L791.5 223.2 L789.3 225.4 L786.3 226.9 L783.4 226.2 L780.4 225.4 L777.5 224.7 L774.6 224.7 L772.4 223.2 L770.1 222.5 L768.7 224.0 L767.2 226.2 L768.7 228.4 L767.2 230.6 L764.3 232.1 L762.1 234.3 L760.6 237.2 L759.1 240.1 L756.9 241.6 L754.0 240.9 L751.0 238.7 L748.8 235.7 L747.4 232.8 L746.9 232.0 L748.2 230.0 L750.8 228.7 L752.1 226.8 L750.8 225.5 L748.2 226.1 L746.2 226.8 L744.3 225.5 L741.7 224.8 L739.1 225.2 L735.8 226.1 L733.2 227.4 L729.9 228.7 L726.6 229.4 L723.4 230.0 L720.1 231.3 L716.8 232.6 L714.9 233.3 L714.2 231.3 L712.3 230.7 L710.9 232.6 L712.3 234.6 L709.6 235.3 L706.4 234.6 L703.1 234.6 L699.8 234.0 L697.2 234.6 L694.6 234.3 L693.3 232.6 Z" fill="none" stroke="#000" stroke-width="1.4" stroke-linejoin="round" stroke-linecap="round"/>
<path d="M787.1 183.5 L789.3 180.6 L791.5 179.9 L791.5 182.1 L790.0 184.3 L788.5 185.7 L787.1 185.0 Z" fill="none" stroke="#000" stroke-width="1.4" stroke-linejoin="round" stroke-linecap="round"/>
<path d="M759.1 218.1 L761.3 216.6 L760.6 218.8 L758.4 220.6 Z" fill="none" stroke="#000" stroke-width="1.4" stroke-linejoin="round" stroke-linecap="round"/>
<path d="M735.6 227.6 L737.4 226.8 L737.2 228.6 L735.6 229.6 Z" fill="none" stroke="#000" stroke-width="1.4" stroke-linejoin="round" stroke-linecap="round"/>
<path d="M694.5 235.8 L692.1 235.8 L689.6 237.0 L687.6 238.6 L685.1 239.4 L683.1 240.3 L681.0 241.1 L679.4 242.3 L677.8 243.1 L675.7 243.5 L674.9 244.7 L676.9 245.6 L678.2 247.2 L679.0 248.8 L680.2 250.1 L679.8 251.7 L681.4 252.1 L682.7 251.3 L683.1 249.2 L683.5 247.2 L684.7 245.6 L686.7 244.7 L688.4 245.6 L688.8 247.6 L690.0 249.7 L690.8 251.7 L690.4 253.7 L689.2 255.4 L687.6 256.6 L685.5 257.4 L683.9 258.6 L684.3 260.7 L685.1 262.7 L685.5 264.8 L684.7 266.8 L684.7 268.4 L686.3 269.3 L688.4 269.7 L689.6 268.8 L689.2 266.8 L690.0 264.8 L691.2 263.9 L692.5 265.2 L692.1 267.2 L691.7 269.7 L691.2 272.1 L692.9 271.3 L694.5 269.7 L696.1 268.4 L698.2 267.6 L700.2 266.4 L701.0 263.9 L701.5 261.5 L702.3 259.0 L703.5 256.6 L704.7 254.1 L705.9 252.1 L707.2 250.1 L708.0 248.0 L707.6 246.0 L705.9 244.7 L703.9 243.9 L702.7 242.7 L703.1 241.1 L701.5 239.8 L699.4 239.0 L697.4 238.2 L695.7 237.0 Z" fill="none" stroke="#000" stroke-width="1.4" stroke-linejoin="round" stroke-linecap="round"/>
<path d="M709.6 242.5 L712.3 241.1 L714.2 239.2 L716.2 236.6 L718.8 235.3 L721.4 234.6 L724.0 235.3 L726.6 234.6 L727.9 232.6 L730.6 231.3 L733.2 230.7 L735.8 229.4 L737.7 230.7 L740.4 231.3 L743.0 232.0 L743.6 234.6 L741.7 237.2 L739.1 239.2 L737.1 241.1 L735.8 243.8 L733.2 242.5 L729.9 241.8 L726.6 242.5 L724.0 244.4 L722.1 247.0 L720.8 250.3 L718.8 249.6 L716.2 248.3 L714.9 245.7 L713.6 243.1 L711.6 242.5 Z" fill="none" stroke="#000" stroke-width="1.4" stroke-linejoin="round" stroke-linecap="round"/>
<path d="M635.6 196.6 L638.1 199.1 L637.3 202.4 L639.7 205.6 L641.4 208.9 L640.1 212.2 L638.1 215.4 L636.4 219.5 L635.6 222.8 L636.9 226.1 L634.8 228.5 L633.2 230.2" fill="none" stroke="#000" stroke-width="2.5" stroke-linejoin="round" stroke-linecap="round"/>
<path d="M638.1 230.2 L641.4 228.1 L645.4 226.9 L649.5 225.3 L653.6 223.6 L657.7 222.8 L661.0 222.4 L663.4 221.2 L665.9 222.8 L665.1 224.8" fill="none" stroke="#000" stroke-width="2.5" stroke-linejoin="round" stroke-linecap="round"/>
<path d="M633.0 198.5 L638.0 196.5 L643.0 197.5" fill="none" stroke="#000" stroke-width="2.5" stroke-linejoin="round" stroke-linecap="round"/>
<path d="M617.0 182.0 L621.0 184.5 L624.0 186.5" fill="none" stroke="#000" stroke-width="2.5" stroke-linejoin="round" stroke-linecap="round"/>
<path d="M634.0 196.5 L636.0 199.5 L635.0 203.0 L637.5 206.5" fill="none" stroke="#000" stroke-width="2.5" stroke-linejoin="round" stroke-linecap="round"/>
<path d="M581.0 286.0 L579.6 289.5 L580.4 292.0 L578.0 294.5 L577.0 297.5 L575.2 300.0 L574.2 303.0 L572.0 306.0 L570.2 309.0" fill="none" stroke="#000" stroke-width="2.5" stroke-linejoin="round" stroke-linecap="round"/>
<path d="M676.5 244.5 L678.5 246.5 L679.5 249.5 L681.0 252.0" fill="none" stroke="#000" stroke-width="2.5" stroke-linejoin="round" stroke-linecap="round"/>
<path d="M683.5 246.5 L685.5 249.5 L686.5 253.0 L686.0 256.0" fill="none" stroke="#000" stroke-width="2.5" stroke-linejoin="round" stroke-linecap="round"/>
<path d="M675.0 225.7 L675.7 227.9 L674.3 230.9 L672.8 233.1 L672.1 231.6 L673.2 228.7 L674.3 226.2 Z" fill="#000" stroke="#000" stroke-width="1.7" stroke-linejoin="round" stroke-linecap="round"/>
<path d="M669.6 245.6 L671.2 246.2 L671.8 248.2 L671.0 249.6 L669.8 248.8 L669.2 247.0 Z" fill="#000" stroke="#000" stroke-width="1.7" stroke-linejoin="round" stroke-linecap="round"/>
<path d="M671.6 309.6 L673.6 307.2 L676.2 305.6 L678.8 304.4 L679.4 305.8 L677.4 307.8 L674.8 309.4 L672.8 310.8 Z" fill="#000" stroke="#000" stroke-width="1.7" stroke-linejoin="round" stroke-linecap="round"/>
<path d="M652.6 335.2 L653.6 332.4 L655.8 330.2 L658.4 328.0 L660.8 326.2 L661.8 327.4 L660.2 329.8 L657.8 332.0 L655.6 334.0 L653.6 336.0 Z" fill="#000" stroke="#000" stroke-width="1.7" stroke-linejoin="round" stroke-linecap="round"/>
<path d="M621.2 350.6 L623.4 351.6 L625.0 353.8 L622.6 353.8 L621.2 352.8 Z" fill="#000" stroke="#000" stroke-width="1.7" stroke-linejoin="round" stroke-linecap="round"/>
<ellipse cx="896.1" cy="109.5" rx="1.8" ry="1.1" fill="#000" transform="rotate(-20 896.1 109.5)"/>
<ellipse cx="825.6" cy="92.3" rx="1.2" ry="1.1" fill="#000"/>
<ellipse cx="803.4" cy="130.5" rx="1.0" ry="1.3" fill="#000"/>
<ellipse cx="609.2" cy="90.9" rx="2.4" ry="1.0" fill="#000" transform="rotate(20 609.2 90.9)"/>
<ellipse cx="641.5" cy="111.3" rx="2.0" ry="1.3" fill="#000" transform="rotate(20 641.5 111.3)"/>
<ellipse cx="668.2" cy="108.1" rx="1.6" ry="2.0" fill="#000" transform="rotate(30 668.2 108.1)"/>
<ellipse cx="617.0" cy="117.0" rx="1.2" ry="1.4" fill="#000"/>
<ellipse cx="619.8" cy="151.0" rx="2.8" ry="1.0" fill="#000" transform="rotate(-20 619.8 151.0)"/>
<ellipse cx="620.5" cy="150.8" rx="2.6" ry="0.9" fill="#000" transform="rotate(-20 620.5 150.8)"/>
<ellipse cx="678.6" cy="237.4" rx="1.3" ry="1.2" fill="#000"/>
<ellipse cx="666.0" cy="251.5" rx="1.7" ry="1.3" fill="#000" transform="rotate(-30 666.0 251.5)"/>
<ellipse cx="670.0" cy="247.4" rx="1.2" ry="1.8" fill="#000" transform="rotate(20 670.0 247.4)"/>
<ellipse cx="723.8" cy="205.7" rx="1.6" ry="1.5" fill="#000"/>
<ellipse cx="695.2" cy="278.1" rx="0.8" ry="2.6" fill="#000" transform="rotate(15 695.2 278.1)"/>
<ellipse cx="668.8" cy="314.0" rx="1.2" ry="1.7" fill="#000" transform="rotate(10 668.8 314.0)"/>
<ellipse cx="602.6" cy="358.2" rx="2.2" ry="1.4" fill="#000" transform="rotate(-10 602.6 358.2)"/>
<ellipse cx="608.6" cy="356.4" rx="2.1" ry="1.6" fill="#000" transform="rotate(-35 608.6 356.4)"/>
<ellipse cx="688.7" cy="281.7" rx="1.6" ry="1.6" fill="none" stroke="#000" stroke-width="1.2"/>
<ellipse cx="638.4" cy="242.6" rx="4.7" ry="1.9" fill="none" stroke="#000" stroke-width="1.2" transform="rotate(-10 638.4 242.6)"/>
</g>
</g>
<rect x="85.5" y="31.5" width="383.0" height="383.0" fill="none" stroke="#000" stroke-width="1.05"/>
<text x="150.0" y="424.8" font-size="9.3" text-anchor="middle" textLength="22.4" lengthAdjust="spacingAndGlyphs">125°E</text>
<text x="213.6" y="424.8" font-size="9.3" text-anchor="middle" textLength="22.4" lengthAdjust="spacingAndGlyphs">130°E</text>
<text x="277.0" y="424.8" font-size="9.3" text-anchor="middle" textLength="22.4" lengthAdjust="spacingAndGlyphs">135°E</text>
<text x="340.9" y="424.8" font-size="9.3" text-anchor="middle" textLength="22.4" lengthAdjust="spacingAndGlyphs">140°E</text>
<text x="405.0" y="424.8" font-size="9.3" text-anchor="middle" textLength="22.4" lengthAdjust="spacingAndGlyphs">145°E</text>
<text x="80.7" y="96.6" font-size="9.4" text-anchor="end" textLength="18.8" lengthAdjust="spacingAndGlyphs">45°N</text>
<text x="80.7" y="160.5" font-size="9.4" text-anchor="end" textLength="18.8" lengthAdjust="spacingAndGlyphs">40°N</text>
<text x="80.7" y="224.3" font-size="9.4" text-anchor="end" textLength="18.8" lengthAdjust="spacingAndGlyphs">35°N</text>
<text x="80.7" y="288.1" font-size="9.4" text-anchor="end" textLength="18.8" lengthAdjust="spacingAndGlyphs">30°N</text>
<text x="80.7" y="351.6" font-size="9.4" text-anchor="end" textLength="18.8" lengthAdjust="spacingAndGlyphs">25°N</text>
<text x="277.0" y="25.6" font-size="12.2" text-anchor="middle" textLength="271.0" lengthAdjust="spacingAndGlyphs">GSMAP_NRT_1HR estimates for 20260331 16</text>
<g clip-path="url(#cr)">
<clipPath id="cov"><polygon points="654.7,248.2 654.7,236.5 657.6,227.6 666.5,223.2 675.3,218.8 684.1,211.5 690.0,202.6 694.4,195.3 704.7,189.4 719.4,187.9 734.1,186.5 740.0,182.1 751.8,180.6 760.6,176.2 763.5,168.8 771.8,159.4 777.6,153.5 779.1,144.7 783.5,138.8 783.5,130.0 782.1,121.2 786.5,112.4 787.9,106.5 795.3,99.1 804.1,93.2 815.9,90.3 830.6,88.8 842.4,91.8 857.1,94.1 871.8,93.2 883.5,94.7 892.4,100.6 899.7,105.0 903.5,112.4 904.7,124.1 902.6,132.9 896.8,138.8 887.9,143.2 880.6,147.1 868.8,147.1 860.0,146.2 851.2,152.1 848.2,159.4 852.6,166.8 856.5,174.1 857.1,185.9 852.6,194.7 848.2,203.5 843.8,212.4 842.4,221.2 837.9,227.1 830.6,232.9 821.8,238.8 812.9,244.7 804.7,250.6 792.9,251.2 781.2,251.2 772.4,254.1 763.5,260.0 757.6,268.8 745.9,271.8 734.1,272.3 726.3,276.8 725.7,287.4 721.2,295.0 712.1,304.0 706.1,311.6 703.0,323.7 694.0,329.7 684.9,335.7 682.5,346.4 680.6,350.4 675.4,355.6 667.5,358.2 659.7,358.9 649.2,358.9 640.1,359.5 637.3,364.7 635.4,369.9 632.1,375.1 627.5,380.4 622.3,383.0 613.1,383.6 602.7,383.6 596.1,382.3 589.6,377.7 584.4,372.5 581.1,367.3 578.5,360.8 579.2,354.2 580.5,349.0 581.1,345.1 583.1,339.8 587.0,335.9 592.2,333.3 596.1,332.0 604.0,328.7 613.1,328.7 616.4,330.7 619.7,333.3 622.3,329.4 626.2,324.2 628.8,320.2 633.5,313.1 639.4,308.5 643.3,303.3 644.6,298.1 647.9,291.5 651.8,285.0 655.3,285.3 659.7,280.1 662.6,275.0 664.9,269.1 663.4,263.2 659.0,258.8 655.3,252.9"/></clipPath>
<polygon points="654.7,248.2 654.7,236.5 657.6,227.6 666.5,223.2 675.3,218.8 684.1,211.5 690.0,202.6 694.4,195.3 704.7,189.4 719.4,187.9 734.1,186.5 740.0,182.1 751.8,180.6 760.6,176.2 763.5,168.8 771.8,159.4 777.6,153.5 779.1,144.7 783.5,138.8 783.5,130.0 782.1,121.2 786.5,112.4 787.9,106.5 795.3,99.1 804.1,93.2 815.9,90.3 830.6,88.8 842.4,91.8 857.1,94.1 871.8,93.2 883.5,94.7 892.4,100.6 899.7,105.0 903.5,112.4 904.7,124.1 902.6,132.9 896.8,138.8 887.9,143.2 880.6,147.1 868.8,147.1 860.0,146.2 851.2,152.1 848.2,159.4 852.6,166.8 856.5,174.1 857.1,185.9 852.6,194.7 848.2,203.5 843.8,212.4 842.4,221.2 837.9,227.1 830.6,232.9 821.8,238.8 812.9,244.7 804.7,250.6 792.9,251.2 781.2,251.2 772.4,254.1 763.5,260.0 757.6,268.8 745.9,271.8 734.1,272.3 726.3,276.8 725.7,287.4 721.2,295.0 712.1,304.0 706.1,311.6 703.0,323.7 694.0,329.7 684.9,335.7 682.5,346.4 680.6,350.4 675.4,355.6 667.5,358.2 659.7,358.9 649.2,358.9 640.1,359.5 637.3,364.7 635.4,369.9 632.1,375.1 627.5,380.4 622.3,383.0 613.1,383.6 602.7,383.6 596.1,382.3 589.6,377.7 584.4,372.5 581.1,367.3 578.5,360.8 579.2,354.2 580.5,349.0 581.1,345.1 583.1,339.8 587.0,335.9 592.2,333.3 596.1,332.0 604.0,328.7 613.1,328.7 616.4,330.7 619.7,333.3 622.3,329.4 626.2,324.2 628.8,320.2 633.5,313.1 639.4,308.5 643.3,303.3 644.6,298.1 647.9,291.5 651.8,285.0 655.3,285.3 659.7,280.1 662.6,275.0 664.9,269.1 663.4,263.2 659.0,258.8 655.3,252.9" fill="#ffe8ba"/>
<g clip-path="url(#cov)">
<polygon points="654.7,248.2 654.7,236.5 655.9,232.4 659.8,228.4 665.7,225.5 671.1,224.5 676.5,224.5 679.4,223.0 683.3,219.6 689.2,218.1 697.0,217.6 705.0,216.2 712.7,216.7 716.0,220.0 712.0,226.0 710.0,236.0 709.0,246.0 706.0,254.0 702.0,264.0 698.0,272.0 694.0,280.0 690.0,288.0 686.0,294.0 680.0,300.0 672.0,304.0 668.0,310.0 662.0,316.0 654.0,322.0 646.0,326.0 640.0,330.0 634.0,334.0 628.0,338.0 622.0,342.0 616.0,347.0 611.0,347.0 612.0,338.0 613.1,328.7 616.4,330.7 619.7,333.3 622.3,329.4 626.2,324.2 628.8,320.2 633.5,313.1 639.4,308.5 643.3,303.3 644.6,298.1 647.9,291.5 651.8,285.0 655.3,285.3 659.7,280.1 662.6,275.0 664.9,269.1 663.4,263.2 659.0,258.8 655.3,252.9" fill="#d9ffc6"/>
<polygon points="676.5,224.5 682.4,222.5 683.0,230.0 682.4,238.2 679.4,239.2 677.5,232.0 676.0,227.0" fill="#ffe8ba"/>
<polygon points="577.0,353.0 580.0,345.0 583.0,339.0 587.0,335.0 592.0,332.5 596.0,331.0 601.0,330.0 598.0,337.0 594.5,342.0 590.5,347.0 586.5,350.0 583.5,353.5 581.0,357.0 578.0,360.0" fill="#ffe8ba"/>
<polygon points="706.0,226.0 712.0,219.0 722.0,213.5 740.0,211.0 756.0,210.0 758.0,214.0 745.0,217.0 725.0,219.0 714.0,224.0 708.0,229.0" fill="#d9ffc6"/>
<polygon points="757.4,206.5 762.7,202.2 769.1,196.9 777.6,191.6 786.1,187.3 794.6,183.1 803.1,181.0 807.3,184.2 804.2,189.5 797.8,193.7 790.4,195.8 781.9,200.1 774.4,202.2 767.0,205.4 760.6,209.7 757.4,209.7" fill="#d9ffc6"/>
<ellipse cx="780.8" cy="198.0" rx="3.2" ry="1.6" fill="#99fb98" transform="rotate(-25 780.8 198.0)"/>
<ellipse cx="802.0" cy="186.3" rx="3.0" ry="2.0" fill="#99fb98" transform="rotate(-20 802.0 186.3)"/>
<ellipse cx="798.9" cy="193.7" rx="1.6" ry="1.2" fill="#99fb98"/>
<polygon points="811.6,161.9 820.1,151.2 826.5,153.4 831.8,159.7 830.7,168.2 826.5,174.6 822.2,183.1 820.1,191.6 813.7,193.7 809.5,189.5 810.5,181.0 813.7,172.5 811.6,166.1" fill="#d9ffc6"/>
<polygon points="832.8,200.1 839.2,193.7 845.6,189.5 852.0,183.1 856.2,179.9 857.0,187.3 852.0,193.7 845.6,200.1 839.2,205.4 832.8,206.5" fill="#d9ffc6"/>
<ellipse cx="855.1" cy="182.0" rx="1.6" ry="2.2" fill="#66ffff"/>
<ellipse cx="843.5" cy="199.0" rx="1.4" ry="1.2" fill="#66ffff"/>
<ellipse cx="847.7" cy="196.9" rx="1.4" ry="1.2" fill="#66ffff"/>
<ellipse cx="845.0" cy="198.5" rx="4.0" ry="2.4" fill="#99fb98" transform="rotate(-35 845.0 198.5)"/>
<polygon points="802.0,234.1 809.5,227.7 818.0,223.5 826.5,219.2 832.8,221.3 830.7,227.7 822.2,234.1 813.7,240.4 807.3,246.8 801.0,248.9 798.9,242.6" fill="#d9ffc6"/>
<ellipse cx="806.3" cy="245.8" rx="2.6" ry="1.8" fill="#99fb98"/>
<polygon points="826.0,122.0 836.0,118.0 848.0,112.0 862.0,108.0 876.0,104.0 890.0,100.0 899.7,105.0 903.5,112.4 904.7,124.1 902.6,132.9 896.8,138.8 887.9,143.2 880.6,147.1 868.8,147.1 860.0,146.2 852.0,140.0 844.0,136.0 836.0,134.0 828.0,132.0 824.0,128.0" fill="#d9ffc6"/>
<polygon points="824.3,138.5 835.0,134.2 847.7,130.0 862.0,128.0 870.0,134.0 870.0,144.9 856.2,147.0 847.7,150.2 839.2,147.0 830.7,144.9" fill="#d9ffc6"/>
<polygon points="868.0,120.0 878.0,114.0 890.0,112.0 900.0,114.0 903.5,120.0 903.0,132.0 897.0,138.0 888.0,140.0 878.0,138.0 870.0,132.0 866.0,126.0" fill="#99fb98"/>
<polygon points="873.2,119.7 883.5,116.8 895.3,118.2 901.2,124.1 902.6,132.9 896.8,137.4 886.5,137.4 877.6,134.4 873.2,128.5" fill="#66ffff"/>
<ellipse cx="882.6" cy="126.5" rx="4.2" ry="4.8" fill="#00bfff"/>
<ellipse cx="897.4" cy="132.0" rx="2.6" ry="2.8" fill="#00bfff"/>
<ellipse cx="890.5" cy="128.5" rx="1.2" ry="1.2" fill="#00bfff"/>
<ellipse cx="883.5" cy="126.0" rx="1.6" ry="2.4" fill="#00a8f0"/>
<polygon points="654.6,239.5 662.0,240.5 668.5,246.1 678.8,251.5 681.8,261.8 680.3,270.6 673.0,272.0 665.6,269.1 662.6,263.2 655.3,254.4" fill="#99fb98"/>
<polygon points="655.3,242.6 658.2,240.4 662.6,243.4 664.1,247.1 668.5,253.7 674.4,252.2 678.1,254.4 678.1,260.3 674.4,265.4 669.3,267.6 664.9,266.2 663.4,261.8 662.6,254.4 658.2,254.4 655.3,252.2" fill="#66ffff"/>
<ellipse cx="659.2" cy="248.8" rx="3.9" ry="5.0" fill="#00bfff"/>
<ellipse cx="659.0" cy="248.6" rx="2.6" ry="3.7" fill="#0066ff"/>
<ellipse cx="658.7" cy="249.3" rx="1.2" ry="1.8" fill="#9966ff"/>
<ellipse cx="671.5" cy="258.8" rx="6.0" ry="4.8" fill="#00bfff" transform="rotate(-30 671.5 258.8)"/>
<ellipse cx="672.2" cy="258.1" rx="4.6" ry="3.2" fill="#0066ff" transform="rotate(-25 672.2 258.1)"/>
<ellipse cx="672.4" cy="258.0" rx="3.0" ry="1.9" fill="#9966ff" transform="rotate(-20 672.4 258.0)"/>
<polygon points="664.0,286.0 670.0,282.5 678.0,281.5 684.5,283.5 684.0,288.0 676.0,290.5 668.0,291.0 664.0,289.5" fill="#66ffff"/>
<ellipse cx="673.0" cy="286.3" rx="6.5" ry="3.0" fill="#00bfff" transform="rotate(-10 673.0 286.3)"/>
<ellipse cx="674.4" cy="286.0" rx="3.0" ry="1.5" fill="#0066ff" transform="rotate(-10 674.4 286.0)"/>
<polygon points="645.0,296.0 650.0,289.0 658.0,288.0 664.0,290.0 666.0,296.0 660.0,300.0 652.0,302.0 646.0,300.0" fill="#66ffff"/>
<ellipse cx="653.0" cy="293.0" rx="6.0" ry="3.5" fill="#00bfff" transform="rotate(-10 653.0 293.0)"/>
<ellipse cx="652.0" cy="293.2" rx="3.3" ry="2.5" fill="#0066ff"/>
<ellipse cx="651.6" cy="293.4" rx="1.6" ry="1.4" fill="#9966ff"/>
<polygon points="666.0,292.0 676.0,291.0 684.0,292.5 682.0,297.0 672.0,299.0 664.0,300.0 658.0,303.0 654.0,301.0 660.0,297.0" fill="#99fb98"/>
<polygon points="632.3,316.0 635.7,313.2 639.2,310.3 642.6,308.6 646.0,306.9 649.5,304.9 652.9,303.2 656.3,301.4 659.2,300.0 662.0,298.9 664.9,299.2 666.1,300.6 664.3,302.6 662.0,304.6 659.2,306.9 656.3,309.2 654.0,311.5 651.7,313.5 648.9,315.5 646.0,316.9 642.6,318.0 639.2,318.6 635.7,318.3 633.2,317.7" fill="#d9ffc6" stroke="#d9ffc6" stroke-width="14" stroke-linejoin="round"/>
<polygon points="629.2,316.6 631.2,316.3 632.9,317.7 631.2,319.5 629.4,320.6 627.7,322.3 626.3,324.0 626.0,322.3 627.7,320.9 629.2,319.5" fill="#d9ffc6" stroke="#d9ffc6" stroke-width="11.8" stroke-linejoin="round"/>
<polygon points="632.3,316.0 635.7,313.2 639.2,310.3 642.6,308.6 646.0,306.9 649.5,304.9 652.9,303.2 656.3,301.4 659.2,300.0 662.0,298.9 664.9,299.2 666.1,300.6 664.3,302.6 662.0,304.6 659.2,306.9 656.3,309.2 654.0,311.5 651.7,313.5 648.9,315.5 646.0,316.9 642.6,318.0 639.2,318.6 635.7,318.3 633.2,317.7" fill="#99fb98" stroke="#99fb98" stroke-width="8.5" stroke-linejoin="round"/>
<polygon points="629.2,316.6 631.2,316.3 632.9,317.7 631.2,319.5 629.4,320.6 627.7,322.3 626.3,324.0 626.0,322.3 627.7,320.9 629.2,319.5" fill="#99fb98" stroke="#99fb98" stroke-width="6.3" stroke-linejoin="round"/>
<polygon points="632.3,316.0 635.7,313.2 639.2,310.3 642.6,308.6 646.0,306.9 649.5,304.9 652.9,303.2 656.3,301.4 659.2,300.0 662.0,298.9 664.9,299.2 666.1,300.6 664.3,302.6 662.0,304.6 659.2,306.9 656.3,309.2 654.0,311.5 651.7,313.5 648.9,315.5 646.0,316.9 642.6,318.0 639.2,318.6 635.7,318.3 633.2,317.7" fill="#66ffff" stroke="#66ffff" stroke-width="5.4" stroke-linejoin="round"/>
<polygon points="629.2,316.6 631.2,316.3 632.9,317.7 631.2,319.5 629.4,320.6 627.7,322.3 626.3,324.0 626.0,322.3 627.7,320.9 629.2,319.5" fill="#66ffff" stroke="#66ffff" stroke-width="3.2" stroke-linejoin="round"/>
<polygon points="632.3,316.0 635.7,313.2 639.2,310.3 642.6,308.6 646.0,306.9 649.5,304.9 652.9,303.2 656.3,301.4 659.2,300.0 662.0,298.9 664.9,299.2 666.1,300.6 664.3,302.6 662.0,304.6 659.2,306.9 656.3,309.2 654.0,311.5 651.7,313.5 648.9,315.5 646.0,316.9 642.6,318.0 639.2,318.6 635.7,318.3 633.2,317.7" fill="#00bfff" stroke="#00bfff" stroke-width="3.0" stroke-linejoin="round"/>
<polygon points="632.3,316.0 635.7,313.2 639.2,310.3 642.6,308.6 646.0,306.9 649.5,304.9 652.9,303.2 656.3,301.4 659.2,300.0 662.0,298.9 664.9,299.2 666.1,300.6 664.3,302.6 662.0,304.6 659.2,306.9 656.3,309.2 654.0,311.5 651.7,313.5 648.9,315.5 646.0,316.9 642.6,318.0 639.2,318.6 635.7,318.3 633.2,317.7" fill="#0066ff" stroke="#0066ff" stroke-width="1.7" stroke-linejoin="round"/>
<polygon points="644.9,306.3 645.2,302.3 644.9,297.7 647.2,295.4 650.6,297.7 654.0,300.6 657.5,300.0 654.0,302.3 649.5,304.6" fill="#66ffff"/>
<ellipse cx="648.6" cy="300.3" rx="1.3" ry="1.2" fill="#00bfff"/>
<polygon points="632.3,316.0 635.7,313.2 639.2,310.3 642.6,308.6 646.0,306.9 649.5,304.9 652.9,303.2 656.3,301.4 659.2,300.0 662.0,298.9 664.9,299.2 666.1,300.6 664.3,302.6 662.0,304.6 659.2,306.9 656.3,309.2 654.0,311.5 651.7,313.5 648.9,315.5 646.0,316.9 642.6,318.0 639.2,318.6 635.7,318.3 633.2,317.7" fill="#0066ff" stroke="#0066ff" stroke-width="1.7" stroke-linejoin="round"/>
<polygon points="629.2,316.6 631.2,316.3 632.9,317.7 631.2,319.5 629.4,320.6 627.7,322.3 626.3,324.0 626.0,322.3 627.7,320.9 629.2,319.5" fill="#0066ff"/>
<polygon points="632.3,316.0 635.7,313.2 639.2,310.3 642.6,308.6 646.0,306.9 649.5,304.9 652.9,303.2 656.3,301.4 659.2,300.0 662.0,298.9 664.9,299.2 666.1,300.6 664.3,302.6 662.0,304.6 659.2,306.9 656.3,309.2 654.0,311.5 651.7,313.5 648.9,315.5 646.0,316.9 642.6,318.0 639.2,318.6 635.7,318.3 633.2,317.7" fill="#dd66ff" stroke="#9966ff" stroke-width="0.5" stroke-linejoin="round"/>
<polygon points="635.7,316.0 638.6,313.2 641.5,310.9 644.9,308.6 648.3,306.6 651.7,305.2 655.2,305.4 655.8,307.2 654.0,309.7 651.2,312.3 648.3,314.6 644.9,316.0 641.5,317.2 638.0,317.5 636.0,316.9" fill="#ff00ff"/>
<ellipse cx="643.2" cy="312.9" rx="2.3" ry="1.5" fill="#cf9b45" transform="rotate(-20 643.2 312.9)"/>
<polygon points="589.6,350.9 594.8,348.3 598.1,344.4 601.4,339.8 602.7,334.6 604.0,330.7 607.9,329.4 612.5,330.0 613.1,332.6 609.2,334.6 607.3,337.9 607.3,341.8 604.6,345.7 600.7,349.6 596.1,352.3 591.6,353.6 589.3,352.9" fill="#d9ffc6" stroke="#d9ffc6" stroke-width="11" stroke-linejoin="round"/>
<polygon points="589.6,350.9 594.8,348.3 598.1,344.4 601.4,339.8 602.7,334.6 604.0,330.7 607.9,329.4 612.5,330.0 613.1,332.6 609.2,334.6 607.3,337.9 607.3,341.8 604.6,345.7 600.7,349.6 596.1,352.3 591.6,353.6 589.3,352.9" fill="#99fb98" stroke="#99fb98" stroke-width="8" stroke-linejoin="round"/>
<polygon points="589.6,350.9 594.8,348.3 598.1,344.4 601.4,339.8 602.7,334.6 604.0,330.7 607.9,329.4 612.5,330.0 613.1,332.6 609.2,334.6 607.3,337.9 607.3,341.8 604.6,345.7 600.7,349.6 596.1,352.3 591.6,353.6 589.3,352.9" fill="#66ffff" stroke="#66ffff" stroke-width="5.5" stroke-linejoin="round"/>
<polygon points="589.6,350.9 594.8,348.3 598.1,344.4 601.4,339.8 602.7,334.6 604.0,330.7 607.9,329.4 612.5,330.0 613.1,332.6 609.2,334.6 607.3,337.9 607.3,341.8 604.6,345.7 600.7,349.6 596.1,352.3 591.6,353.6 589.3,352.9" fill="#00bfff" stroke="#00bfff" stroke-width="3.6" stroke-linejoin="round"/>
<polygon points="589.6,350.9 594.8,348.3 598.1,344.4 601.4,339.8 602.7,334.6 604.0,330.7 607.9,329.4 612.5,330.0 613.1,332.6 609.2,334.6 607.3,337.9 607.3,341.8 604.6,345.7 600.7,349.6 596.1,352.3 591.6,353.6 589.3,352.9" fill="#0066ff" stroke="#0066ff" stroke-width="2.0" stroke-linejoin="round"/>
<polygon points="589.6,350.9 594.8,348.3 598.1,344.4 601.4,339.8 602.7,334.6 604.0,330.7 607.9,329.4 612.5,330.0 613.1,332.6 609.2,334.6 607.3,337.9 607.3,341.8 604.6,345.7 600.7,349.6 596.1,352.3 591.6,353.6 589.3,352.9" fill="#9966ff" stroke="#9966ff" stroke-width="0.8" stroke-linejoin="round"/>
<polygon points="595.4,332.5 599.0,331.8 601.6,333.1 601.3,337.0 599.6,339.0 597.0,337.0 595.7,334.4" fill="#66ffff"/>
<ellipse cx="583.2" cy="359.5" rx="4.6" ry="3.6" fill="#d9ffc6" transform="rotate(-30 583.2 359.5)"/>
<polygon points="583.9,356.0 586.5,352.1 589.2,350.8 593.1,353.4 590.5,356.0 586.5,357.6" fill="#99fb98"/>
<polygon points="585.5,354.6 587.5,352.4 590.0,352.0 591.0,353.6 588.6,355.4 586.4,356.0" fill="#66ffff"/>
<polygon points="586.0,351.0 589.6,349.5 590.0,353.5 587.0,355.0" fill="#0066ff"/>
<polygon points="589.6,350.9 594.8,348.3 598.1,344.4 601.4,339.8 602.7,334.6 604.0,330.7 607.9,329.4 612.5,330.0 613.1,332.6 609.2,334.6 607.3,337.9 607.3,341.8 604.6,345.7 600.7,349.6 596.1,352.3 591.6,353.6 589.3,352.9" fill="#dd66ff"/>
<ellipse cx="604.2" cy="341.8" rx="0.9" ry="0.9" fill="#ff00ff"/>
<ellipse cx="599.4" cy="346.4" rx="0.9" ry="0.9" fill="#ff00ff"/>
<ellipse cx="606.5" cy="333.2" rx="0.9" ry="0.9" fill="#ff00ff"/>
<ellipse cx="602.5" cy="344.2" rx="0.9" ry="0.9" fill="#ff00ff"/>
</g>
<line x1="618.5" y1="31.5" x2="618.5" y2="414.5" stroke="#000" stroke-width="1.0" stroke-opacity="0.36"/>
<line x1="682.5" y1="31.5" x2="682.5" y2="414.5" stroke="#000" stroke-width="1.0" stroke-opacity="0.36"/>
<line x1="746.5" y1="31.5" x2="746.5" y2="414.5" stroke="#000" stroke-width="1.0" stroke-opacity="0.36"/>
<line x1="810.3" y1="31.5" x2="810.3" y2="414.5" stroke="#000" stroke-width="1.0" stroke-opacity="0.36"/>
<line x1="874.3" y1="31.5" x2="874.3" y2="414.5" stroke="#000" stroke-width="1.0" stroke-opacity="0.36"/>
<line x1="555.5" y1="94.5" x2="938.5" y2="94.5" stroke="#000" stroke-width="1.0" stroke-opacity="0.36"/>
<line x1="555.5" y1="158.4" x2="938.5" y2="158.4" stroke="#000" stroke-width="1.0" stroke-opacity="0.36"/>
<line x1="555.5" y1="222.2" x2="938.5" y2="222.2" stroke="#000" stroke-width="1.0" stroke-opacity="0.36"/>
<line x1="555.5" y1="286.0" x2="938.5" y2="286.0" stroke="#000" stroke-width="1.0" stroke-opacity="0.36"/>
<line x1="555.5" y1="349.5" x2="938.5" y2="349.5" stroke="#000" stroke-width="1.0" stroke-opacity="0.36"/>
<g transform="translate(0 0)">
<path d="M555.8 156.3 L559.9 153.9 L564.0 149.8 L568.1 146.9 L573.0 146.2 L577.9 146.5 L578.7 144.9 L579.5 147.4 L582.0 148.2 L583.1 150.6 L581.1 154.7 L577.9 158.8 L574.6 161.2 L572.2 163.7 L571.3 165.3 L573.8 166.1 L577.1 165.3 L579.5 165.8 L575.4 167.8 L574.6 170.2 L571.3 170.7 L568.9 171.9 L568.9 174.3 L571.3 173.5 L576.2 171.0 L581.1 168.6 L585.2 166.1 L590.1 163.7 L595.8 161.2 L602.4 159.9 L607.3 159.6 L610.6 158.8 L613.0 161.2 L616.3 160.9 L619.5 162.1 L622.8 163.7 L625.6 162.9 L624.4 166.1 L622.8 170.2 L622.0 173.5 L626.1 174.6 L621.2 175.9 L618.7 178.4 L617.1 181.7 L614.6 182.2 L617.9 182.8 L620.4 184.1 L622.8 186.6 L625.3 184.9 L628.5 184.1 L632.6 185.8 L635.9 186.6 L638.3 185.8 L640.0 188.2 L641.6 189.0 L640.0 192.3 L642.4 197.2 L640.0 196.4 L636.7 197.2 L634.2 198.8 L633.4 201.3 L635.9 202.9 L636.7 205.4 L638.3 207.0 L641.6 207.8 L640.0 211.9 L638.3 215.2 L635.9 218.4 L635.1 221.7 L636.7 223.3 L635.9 226.6 L633.4 229.5 L635.9 229.9 L639.2 229.1 L642.6 228.5 L645.6 227.2 L648.5 226.5 L650.7 225.0 L652.9 224.3 L655.1 222.8 L658.1 223.5 L660.3 222.1 L662.5 222.8 L664.7 223.5 L665.4 221.3 L668.4 220.3 L671.3 218.4 L673.5 216.2 L675.7 212.5 L676.5 208.8 L675.7 205.9 L675.0 201.5 L675.0 197.1 L673.5 194.1 L671.3 191.2 L668.4 187.5 L666.2 183.8 L664.0 180.1 L661.8 176.5 L658.1 173.5 L654.4 170.6 L652.2 168.4 L649.3 168.4 L649.3 166.2 L651.2 165.4 L650.7 163.2 L652.2 160.3 L655.9 158.1 L660.3 156.6 L664.7 155.1 L669.1 152.9 L672.0 150.0 L677.1 146.8 L678.6 143.6 L679.3 138.3 L681.4 134.0 L685.0 130.8 L687.2 128.7 L691.5 124.5 L695.7 124.0 L700.0 121.3 L704.2 117.0 L707.4 116.0 L709.6 118.1 L711.7 117.0 L712.7 121.3 L718.0 122.8 L722.3 123.8 L728.7 122.3 L736.1 119.1 L744.6 114.9 L748.8 111.7 L753.1 106.4 L759.5 100.0 L765.8 93.7 L772.2 87.3 L778.6 80.9 L785.0 75.6 L789.2 69.2 L794.5 63.9 L799.8 58.6 L804.6 56.2 L809.2 52.7 L812.6 47.0 L813.7 41.3 L816.0 35.6 L816.5 31.0" fill="none" stroke="#000" stroke-width="1.4" stroke-linejoin="round" stroke-linecap="round"/>
<path d="M636.7 197.2 L635.5 199.5 L637.2 201.5 L635.2 203.4 L637.6 205.0 L636.5 207.3" fill="none" stroke="#000" stroke-width="1.4" stroke-linejoin="round" stroke-linecap="round"/>
<path d="M634.0 223.5 L633.0 226.0 L634.8 227.6 L632.8 229.3 L631.2 230.6 L633.4 231.0" fill="none" stroke="#000" stroke-width="1.4" stroke-linejoin="round" stroke-linecap="round"/>
<path d="M637.4 215.0 L635.9 217.9 L635.1 221.6 L636.6 223.8 L634.4 226.0 L632.9 229.0 L635.1 229.7 L637.4 228.2 L639.6 229.7 L641.8 227.5 L645.0 226.8" fill="none" stroke="#000" stroke-width="1.4" stroke-linejoin="round" stroke-linecap="round"/>
<path d="M555.8 189.0 L559.1 187.4 L563.2 186.6 L567.3 186.6 L569.7 188.2 L573.0 189.0 L576.2 190.7 L579.5 189.8 L583.6 190.3 L586.9 191.0 L589.3 192.0 L586.9 193.1 L586.0 196.4 L583.6 198.0 L580.3 197.2 L577.1 198.8 L573.0 199.6 L569.7 201.3 L565.6 202.1 L564.0 204.5 L561.5 205.4 L559.1 207.0 L556.6 207.8 L555.0 209.4" fill="none" stroke="#000" stroke-width="1.4" stroke-linejoin="round" stroke-linecap="round"/>
<path d="M555.0 229.0 L555.7 229.7 L557.9 232.6 L560.1 238.5 L562.4 243.7 L565.3 248.1 L566.8 252.5 L569.7 254.7 L572.6 256.9 L575.6 259.1 L578.5 262.1 L579.3 264.3 L577.1 265.7 L574.1 264.3 L570.4 262.8 L567.5 261.3 L564.6 259.1 L560.9 259.1 L557.2 260.6 L555.7 261.3" fill="none" stroke="#000" stroke-width="1.4" stroke-linejoin="round" stroke-linecap="round"/>
<path d="M555.7 263.5 L559.4 264.3 L563.8 265.0 L568.2 266.5 L572.6 267.9 L576.3 269.4 L578.5 271.6 L578.5 273.8 L575.6 275.3 L572.6 276.8 L569.7 278.2 L566.8 279.7 L563.8 280.4 L560.9 281.2 L557.9 282.6 L555.7 283.4 L559.4 281.9 L562.4 282.6 L563.8 284.9 L566.8 284.1 L569.7 282.6 L572.6 283.4 L575.6 285.6 L578.5 287.1 L580.7 284.9 L583.7 284.9 L584.4 286.3 L581.5 287.8 L579.3 289.3 L580.0 292.2 L577.8 294.4 L575.6 295.1 L577.1 297.4 L574.9 299.6 L574.1 301.8 L573.6 302.8 L570.7 306.8 L568.7 309.7 L563.8 311.7 L561.9 316.6 L559.9 320.5 L557.0 324.4 L556.0 327.4" fill="none" stroke="#000" stroke-width="1.4" stroke-linejoin="round" stroke-linecap="round"/>
<path d="M580.5 286.5 L578.8 289.0 L580.6 290.8 L578.5 292.6 L579.6 294.6 L577.0 296.2 L578.0 298.4 L575.4 300.2 L576.0 302.4 L573.2 304.0 L572.6 306.6 L570.0 308.0" fill="none" stroke="#000" stroke-width="1.4" stroke-linejoin="round" stroke-linecap="round"/>
<path d="M687.2 70.9 L690.4 68.2 L695.7 66.0 L704.2 63.9 L711.7 60.7 L717.0 56.5 L722.3 53.3 L728.7 52.2 L736.1 50.5 L743.5 49.7 L746.7 47.6 L753.1 44.8 L759.5 41.6 L763.7 37.4 L762.7 34.2 L766.9 32.7 L770.1 34.2 L769.0 36.9 L765.8 36.3" fill="none" stroke="#000" stroke-width="1.4" stroke-linejoin="round" stroke-linecap="round"/>
<path d="M696.8 59.7 L704.0 59.9 L711.7 59.7" fill="none" stroke="#000" stroke-width="1.4" stroke-linejoin="round" stroke-linecap="round"/>
<path d="M836.6 31.0 L836.1 37.9 L834.3 44.7 L836.1 51.6 L834.8 58.5 L836.1 65.3 L834.3 72.2 L834.3 77.9 L836.1 81.8 L838.9 79.0 L842.3 74.5 L845.8 71.0 L849.2 69.9 L852.6 72.2 L853.8 76.8 L853.1 80.9 L854.9 77.9 L855.6 72.2 L851.5 68.7 L846.9 65.3 L843.5 60.7 L842.3 53.9 L844.6 47.0 L849.2 41.3 L856.1 39.0 L861.8 40.2 L866.3 43.6 L869.8 47.5 L867.5 42.4 L865.2 37.9 L862.9 33.3 L861.8 31.0" fill="none" stroke="#000" stroke-width="1.4" stroke-linejoin="round" stroke-linecap="round"/>
<path d="M683.9 246.8 L685.1 249.2 L685.9 251.7 L685.1 254.1 L683.5 255.8" fill="none" stroke="#000" stroke-width="1.4" stroke-linejoin="round" stroke-linecap="round"/>
<path d="M686.3 245.6 L687.6 248.0 L688.4 250.5 L688.4 252.9 L686.7 255.0" fill="none" stroke="#000" stroke-width="1.4" stroke-linejoin="round" stroke-linecap="round"/>
<path d="M682.3 252.5 L682.7 255.0 L682.3 257.4 L683.1 258.6" fill="none" stroke="#000" stroke-width="1.4" stroke-linejoin="round" stroke-linecap="round"/>
<path d="M676.1 243.9 L677.8 244.7 L679.0 246.4 L679.8 248.4 L681.0 250.1 L682.3 251.7" fill="none" stroke="#000" stroke-width="1.4" stroke-linejoin="round" stroke-linecap="round"/>
<path d="M675.3 244.3 L676.5 246.4 L678.2 248.4 L679.4 250.9" fill="none" stroke="#000" stroke-width="1.4" stroke-linejoin="round" stroke-linecap="round"/>
<path d="M684.7 247.6 L686.3 250.1 L687.2 252.5 L686.3 254.6" fill="none" stroke="#000" stroke-width="1.4" stroke-linejoin="round" stroke-linecap="round"/>
<path d="M689.6 250.9 L689.6 253.3 L688.4 255.4" fill="none" stroke="#000" stroke-width="1.4" stroke-linejoin="round" stroke-linecap="round"/>
<path d="M569.7 263.5 L574.1 265.0 L577.8 266.5 L575.6 267.2 L571.2 265.7 Z" fill="none" stroke="#000" stroke-width="1.4" stroke-linejoin="round" stroke-linecap="round"/>
<path d="M555.8 266.8 L559.4 268.0 L561.6 270.9 L560.9 273.1 L557.9 273.8 L555.7 273.1 Z" fill="none" stroke="#000" stroke-width="1.4" stroke-linejoin="round" stroke-linecap="round"/>
<path d="M574.6 346.0 L577.5 347.0 L579.5 349.9 L577.5 353.8 L576.6 358.7 L574.6 364.6 L572.6 370.5 L569.7 377.4 L566.8 383.2 L564.8 389.1 L561.9 387.2 L559.9 382.3 L557.9 377.4 L557.0 371.5 L557.9 364.6 L559.9 358.7 L562.8 353.8 L566.8 349.9 L570.7 347.0 Z" fill="none" stroke="#000" stroke-width="1.4" stroke-linejoin="round" stroke-linecap="round"/>
<path d="M708.5 91.5 L711.7 90.0 L715.9 90.0 L718.0 92.6 L717.0 96.8 L713.8 100.0 L710.6 99.4 L708.5 95.8 Z" fill="none" stroke="#000" stroke-width="1.4" stroke-linejoin="round" stroke-linecap="round"/>
<path d="M830.9 88.7 L834.3 88.2 L838.9 91.6 L844.6 96.2 L851.5 100.8 L857.2 104.2 L864.1 106.0 L869.8 107.4 L873.9 105.7 L878.4 103.3 L876.4 106.5 L875.5 109.0 L877.2 112.3 L877.6 115.1 L880.4 115.9 L884.5 114.7 L885.0 116.3 L881.2 117.9 L877.8 119.1 L873.2 120.7 L867.5 122.5 L860.6 124.8 L854.9 128.2 L851.0 132.8 L846.5 130.4 L838.9 126.6 L832.0 124.8 L826.3 124.8 L820.6 126.6 L816.0 129.4 L814.2 132.8 L817.2 135.1 L821.7 136.7 L824.0 138.5 L820.6 140.4 L816.0 139.7 L812.6 142.0 L810.3 138.5 L809.2 134.0 L808.0 129.4 L809.2 124.8 L812.6 122.5 L814.9 117.9 L819.4 116.8 L822.9 117.9 L826.3 115.6 L828.6 109.9 L829.7 104.2 L832.0 99.6 L830.9 93.9 Z" fill="none" stroke="#000" stroke-width="1.4" stroke-linejoin="round" stroke-linecap="round"/>
<path d="M879.6 110.2 L882.5 107.2 L886.9 103.6 L891.5 100.9 L893.6 101.6 L890.4 104.4 L885.8 107.8 L881.8 111.0 Z" fill="none" stroke="#000" stroke-width="1.4" stroke-linejoin="round" stroke-linecap="round"/>
<path d="M897.9 100.8 L901.8 97.3 L906.4 94.6 L911.0 90.9 L913.2 91.6 L909.8 95.1 L905.2 97.8 L900.7 100.8 L898.4 101.9 Z" fill="none" stroke="#000" stroke-width="1.4" stroke-linejoin="round" stroke-linecap="round"/>
<path d="M913.6 91.2 L917.8 88.2 L922.4 87.0 L923.5 89.3 L919.0 90.9 L914.4 92.6 Z" fill="none" stroke="#000" stroke-width="1.4" stroke-linejoin="round" stroke-linecap="round"/>
<path d="M930.4 85.9 L935.0 83.2 L938.4 81.3 L939.1 83.6 L935.0 85.9 L931.5 87.5 Z" fill="none" stroke="#000" stroke-width="1.4" stroke-linejoin="round" stroke-linecap="round"/>
<path d="M694.0 230.7 L695.9 229.4 L699.2 228.7 L702.5 227.4 L705.7 225.5 L709.0 223.5 L712.3 220.9 L715.5 217.6 L718.1 215.7 L722.0 214.6 L727.0 213.6 L732.0 213.2 L736.0 213.6 L740.0 213.7 L744.4 212.9 L748.1 212.9 L751.0 215.1 L754.0 215.9 L756.9 214.4 L759.1 212.2 L759.9 209.3 L762.1 206.3 L765.0 203.4 L767.9 200.4 L770.1 197.5 L768.7 194.6 L770.1 192.4 L773.1 190.9 L775.3 190.1 L775.3 192.4 L773.1 194.6 L772.4 197.5 L774.6 199.4 L778.2 198.2 L781.9 196.5 L785.6 195.0 L789.3 193.1 L792.2 190.1 L795.1 187.2 L799.6 183.8 L802.4 180.9 L804.2 177.5 L806.4 174.0 L808.7 170.0 L809.9 166.6 L811.0 162.6 L809.9 159.7 L806.4 159.2 L808.2 158.0 L809.3 154.0 L808.7 150.6 L811.0 147.2 L813.3 143.7 L815.0 142.6 L817.3 143.2 L818.4 141.4 L818.4 144.9 L819.6 147.2 L821.9 146.6 L823.6 144.9 L825.3 146.0 L826.5 143.7 L825.9 141.4 L824.2 140.6 L822.5 139.2 L824.7 139.7 L827.0 140.9 L828.7 140.3 L828.2 142.6 L827.6 144.9 L828.2 147.2 L829.3 149.4 L831.0 151.7 L832.7 154.0 L834.5 156.9 L835.0 159.7 L836.2 162.6 L836.2 165.5 L834.5 168.9 L832.2 171.2 L830.5 174.0 L828.7 176.9 L829.3 179.2 L827.6 178.6 L825.3 179.2 L823.0 180.9 L821.9 182.6 L822.5 184.9 L823.6 187.8 L823.0 191.2 L822.5 194.6 L820.7 197.5 L819.6 200.0 L818.7 202.6 L817.9 205.6 L818.7 208.5 L820.1 210.7 L820.9 212.9 L818.7 212.2 L816.5 213.7 L815.0 215.9 L813.5 218.1 L812.1 220.3 L809.9 221.8 L807.6 221.0 L806.9 218.8 L809.1 217.4 L809.9 215.1 L807.6 214.4 L805.4 215.9 L804.7 218.1 L802.5 219.6 L800.3 221.8 L798.8 224.7 L796.6 226.2 L795.1 224.7 L795.9 222.5 L793.7 221.8 L791.5 223.2 L789.3 225.4 L786.3 226.9 L783.4 226.2 L780.4 225.4 L777.5 224.7 L774.6 224.7 L772.4 223.2 L770.1 222.5 L768.7 224.0 L767.2 226.2 L768.7 228.4 L767.2 230.6 L764.3 232.1 L762.1 234.3 L760.6 237.2 L759.1 240.1 L756.9 241.6 L754.0 240.9 L751.0 238.7 L748.8 235.7 L747.4 232.8 L746.9 232.0 L748.2 230.0 L750.8 228.7 L752.1 226.8 L750.8 225.5 L748.2 226.1 L746.2 226.8 L744.3 225.5 L741.7 224.8 L739.1 225.2 L735.8 226.1 L733.2 227.4 L729.9 228.7 L726.6 229.4 L723.4 230.0 L720.1 231.3 L716.8 232.6 L714.9 233.3 L714.2 231.3 L712.3 230.7 L710.9 232.6 L712.3 234.6 L709.6 235.3 L706.4 234.6 L703.1 234.6 L699.8 234.0 L697.2 234.6 L694.6 234.3 L693.3 232.6 Z" fill="none" stroke="#000" stroke-width="1.4" stroke-linejoin="round" stroke-linecap="round"/>
<path d="M787.1 183.5 L789.3 180.6 L791.5 179.9 L791.5 182.1 L790.0 184.3 L788.5 185.7 L787.1 185.0 Z" fill="none" stroke="#000" stroke-width="1.4" stroke-linejoin="round" stroke-linecap="round"/>
<path d="M759.1 218.1 L761.3 216.6 L760.6 218.8 L758.4 220.6 Z" fill="none" stroke="#000" stroke-width="1.4" stroke-linejoin="round" stroke-linecap="round"/>
<path d="M735.6 227.6 L737.4 226.8 L737.2 228.6 L735.6 229.6 Z" fill="none" stroke="#000" stroke-width="1.4" stroke-linejoin="round" stroke-linecap="round"/>
<path d="M694.5 235.8 L692.1 235.8 L689.6 237.0 L687.6 238.6 L685.1 239.4 L683.1 240.3 L681.0 241.1 L679.4 242.3 L677.8 243.1 L675.7 243.5 L674.9 244.7 L676.9 245.6 L678.2 247.2 L679.0 248.8 L680.2 250.1 L679.8 251.7 L681.4 252.1 L682.7 251.3 L683.1 249.2 L683.5 247.2 L684.7 245.6 L686.7 244.7 L688.4 245.6 L688.8 247.6 L690.0 249.7 L690.8 251.7 L690.4 253.7 L689.2 255.4 L687.6 256.6 L685.5 257.4 L683.9 258.6 L684.3 260.7 L685.1 262.7 L685.5 264.8 L684.7 266.8 L684.7 268.4 L686.3 269.3 L688.4 269.7 L689.6 268.8 L689.2 266.8 L690.0 264.8 L691.2 263.9 L692.5 265.2 L692.1 267.2 L691.7 269.7 L691.2 272.1 L692.9 271.3 L694.5 269.7 L696.1 268.4 L698.2 267.6 L700.2 266.4 L701.0 263.9 L701.5 261.5 L702.3 259.0 L703.5 256.6 L704.7 254.1 L705.9 252.1 L707.2 250.1 L708.0 248.0 L707.6 246.0 L705.9 244.7 L703.9 243.9 L702.7 242.7 L703.1 241.1 L701.5 239.8 L699.4 239.0 L697.4 238.2 L695.7 237.0 Z" fill="none" stroke="#000" stroke-width="1.4" stroke-linejoin="round" stroke-linecap="round"/>
<path d="M709.6 242.5 L712.3 241.1 L714.2 239.2 L716.2 236.6 L718.8 235.3 L721.4 234.6 L724.0 235.3 L726.6 234.6 L727.9 232.6 L730.6 231.3 L733.2 230.7 L735.8 229.4 L737.7 230.7 L740.4 231.3 L743.0 232.0 L743.6 234.6 L741.7 237.2 L739.1 239.2 L737.1 241.1 L735.8 243.8 L733.2 242.5 L729.9 241.8 L726.6 242.5 L724.0 244.4 L722.1 247.0 L720.8 250.3 L718.8 249.6 L716.2 248.3 L714.9 245.7 L713.6 243.1 L711.6 242.5 Z" fill="none" stroke="#000" stroke-width="1.4" stroke-linejoin="round" stroke-linecap="round"/>
<path d="M635.6 196.6 L638.1 199.1 L637.3 202.4 L639.7 205.6 L641.4 208.9 L640.1 212.2 L638.1 215.4 L636.4 219.5 L635.6 222.8 L636.9 226.1 L634.8 228.5 L633.2 230.2" fill="none" stroke="#000" stroke-width="2.5" stroke-linejoin="round" stroke-linecap="round"/>
<path d="M638.1 230.2 L641.4 228.1 L645.4 226.9 L649.5 225.3 L653.6 223.6 L657.7 222.8 L661.0 222.4 L663.4 221.2 L665.9 222.8 L665.1 224.8" fill="none" stroke="#000" stroke-width="2.5" stroke-linejoin="round" stroke-linecap="round"/>
<path d="M633.0 198.5 L638.0 196.5 L643.0 197.5" fill="none" stroke="#000" stroke-width="2.5" stroke-linejoin="round" stroke-linecap="round"/>
<path d="M617.0 182.0 L621.0 184.5 L624.0 186.5" fill="none" stroke="#000" stroke-width="2.5" stroke-linejoin="round" stroke-linecap="round"/>
<path d="M634.0 196.5 L636.0 199.5 L635.0 203.0 L637.5 206.5" fill="none" stroke="#000" stroke-width="2.5" stroke-linejoin="round" stroke-linecap="round"/>
<path d="M581.0 286.0 L579.6 289.5 L580.4 292.0 L578.0 294.5 L577.0 297.5 L575.2 300.0 L574.2 303.0 L572.0 306.0 L570.2 309.0" fill="none" stroke="#000" stroke-width="2.5" stroke-linejoin="round" stroke-linecap="round"/>
<path d="M676.5 244.5 L678.5 246.5 L679.5 249.5 L681.0 252.0" fill="none" stroke="#000" stroke-width="2.5" stroke-linejoin="round" stroke-linecap="round"/>
<path d="M683.5 246.5 L685.5 249.5 L686.5 253.0 L686.0 256.0" fill="none" stroke="#000" stroke-width="2.5" stroke-linejoin="round" stroke-linecap="round"/>
<path d="M675.0 225.7 L675.7 227.9 L674.3 230.9 L672.8 233.1 L672.1 231.6 L673.2 228.7 L674.3 226.2 Z" fill="#000" stroke="#000" stroke-width="1.7" stroke-linejoin="round" stroke-linecap="round"/>
<path d="M669.6 245.6 L671.2 246.2 L671.8 248.2 L671.0 249.6 L669.8 248.8 L669.2 247.0 Z" fill="#000" stroke="#000" stroke-width="1.7" stroke-linejoin="round" stroke-linecap="round"/>
<path d="M671.6 309.6 L673.6 307.2 L676.2 305.6 L678.8 304.4 L679.4 305.8 L677.4 307.8 L674.8 309.4 L672.8 310.8 Z" fill="#000" stroke="#000" stroke-width="1.7" stroke-linejoin="round" stroke-linecap="round"/>
<path d="M652.6 335.2 L653.6 332.4 L655.8 330.2 L658.4 328.0 L660.8 326.2 L661.8 327.4 L660.2 329.8 L657.8 332.0 L655.6 334.0 L653.6 336.0 Z" fill="#000" stroke="#000" stroke-width="1.7" stroke-linejoin="round" stroke-linecap="round"/>
<path d="M621.2 350.6 L623.4 351.6 L625.0 353.8 L622.6 353.8 L621.2 352.8 Z" fill="#000" stroke="#000" stroke-width="1.7" stroke-linejoin="round" stroke-linecap="round"/>
<ellipse cx="896.1" cy="109.5" rx="1.8" ry="1.1" fill="#000" transform="rotate(-20 896.1 109.5)"/>
<ellipse cx="825.6" cy="92.3" rx="1.2" ry="1.1" fill="#000"/>
<ellipse cx="803.4" cy="130.5" rx="1.0" ry="1.3" fill="#000"/>
<ellipse cx="609.2" cy="90.9" rx="2.4" ry="1.0" fill="#000" transform="rotate(20 609.2 90.9)"/>
<ellipse cx="641.5" cy="111.3" rx="2.0" ry="1.3" fill="#000" transform="rotate(20 641.5 111.3)"/>
<ellipse cx="668.2" cy="108.1" rx="1.6" ry="2.0" fill="#000" transform="rotate(30 668.2 108.1)"/>
<ellipse cx="617.0" cy="117.0" rx="1.2" ry="1.4" fill="#000"/>
<ellipse cx="619.8" cy="151.0" rx="2.8" ry="1.0" fill="#000" transform="rotate(-20 619.8 151.0)"/>
<ellipse cx="620.5" cy="150.8" rx="2.6" ry="0.9" fill="#000" transform="rotate(-20 620.5 150.8)"/>
<ellipse cx="678.6" cy="237.4" rx="1.3" ry="1.2" fill="#000"/>
<ellipse cx="666.0" cy="251.5" rx="1.7" ry="1.3" fill="#000" transform="rotate(-30 666.0 251.5)"/>
<ellipse cx="670.0" cy="247.4" rx="1.2" ry="1.8" fill="#000" transform="rotate(20 670.0 247.4)"/>
<ellipse cx="723.8" cy="205.7" rx="1.6" ry="1.5" fill="#000"/>
<ellipse cx="695.2" cy="278.1" rx="0.8" ry="2.6" fill="#000" transform="rotate(15 695.2 278.1)"/>
<ellipse cx="668.8" cy="314.0" rx="1.2" ry="1.7" fill="#000" transform="rotate(10 668.8 314.0)"/>
<ellipse cx="602.6" cy="358.2" rx="2.2" ry="1.4" fill="#000" transform="rotate(-10 602.6 358.2)"/>
<ellipse cx="608.6" cy="356.4" rx="2.1" ry="1.6" fill="#000" transform="rotate(-35 608.6 356.4)"/>
<ellipse cx="688.7" cy="281.7" rx="1.6" ry="1.6" fill="none" stroke="#000" stroke-width="1.2"/>
<ellipse cx="638.4" cy="242.6" rx="4.7" ry="1.9" fill="none" stroke="#000" stroke-width="1.2" transform="rotate(-10 638.4 242.6)"/>
</g>
</g>
<rect x="555.5" y="31.5" width="383.0" height="383.0" fill="none" stroke="#000" stroke-width="1.05"/>
<text x="619.0" y="424.8" font-size="9.3" text-anchor="middle" textLength="22.4" lengthAdjust="spacingAndGlyphs">125°E</text>
<text x="683.0" y="424.8" font-size="9.3" text-anchor="middle" textLength="22.4" lengthAdjust="spacingAndGlyphs">130°E</text>
<text x="747.0" y="424.8" font-size="9.3" text-anchor="middle" textLength="22.4" lengthAdjust="spacingAndGlyphs">135°E</text>
<text x="810.8" y="424.8" font-size="9.3" text-anchor="middle" textLength="22.4" lengthAdjust="spacingAndGlyphs">140°E</text>
<text x="874.8" y="424.8" font-size="9.3" text-anchor="middle" textLength="22.4" lengthAdjust="spacingAndGlyphs">145°E</text>
<text x="550.7" y="96.6" font-size="9.4" text-anchor="end" textLength="18.8" lengthAdjust="spacingAndGlyphs">45°N</text>
<text x="550.7" y="160.5" font-size="9.4" text-anchor="end" textLength="18.8" lengthAdjust="spacingAndGlyphs">40°N</text>
<text x="550.7" y="224.3" font-size="9.4" text-anchor="end" textLength="18.8" lengthAdjust="spacingAndGlyphs">35°N</text>
<text x="550.7" y="288.1" font-size="9.4" text-anchor="end" textLength="18.8" lengthAdjust="spacingAndGlyphs">30°N</text>
<text x="550.7" y="351.6" font-size="9.4" text-anchor="end" textLength="18.8" lengthAdjust="spacingAndGlyphs">25°N</text>
<text x="745.5" y="25.6" font-size="12.2" text-anchor="middle" textLength="290.5" lengthAdjust="spacingAndGlyphs">Hourly Radar-AMeDAS analysis for 20260331 16</text>
<text x="561.4" y="406.8" font-size="10.3" textLength="102.8" lengthAdjust="spacingAndGlyphs">Provided by JWA/JMA</text>
<rect x="810.3" y="271.2" width="105.1" height="104.1" fill="#fff"/>
<path d="M810.3 375.3 L810.3 363.6 L811.5 364 L813 366.2 L815 367.2 L816.5 366.8 L818 369.2 L819.2 370.6 L820 372.4 L821 374 L822 375.3 Z" fill="#000"/>
<path d="M821.2 367.6H825.8M823.5 365.3V369.9" stroke="#000" stroke-width="0.75" fill="none"/>
<path d="M818.3 370.2H822.9M820.6 367.9V372.5" stroke="#000" stroke-width="0.75" fill="none"/>
<path d="M810.9 364.8H815.5M813.2 362.5V367.1" stroke="#000" stroke-width="0.75" fill="none"/>
<path d="M814.0 365.6H818.6M816.3 363.3V367.9" stroke="#000" stroke-width="0.75" fill="none"/>
<path d="M816.2 366.5H820.8M818.5 364.2V368.8" stroke="#000" stroke-width="0.75" fill="none"/>
<path d="M821.1 374.5H824.9M823.0 372.6V376.4" stroke="#000" stroke-width="0.6" fill="none"/>
<path d="M824.1 374.8H827.9M826.0 372.9V376.7" stroke="#000" stroke-width="0.6" fill="none"/>
<path d="M827.6 375.0H831.4M829.5 373.1V376.9" stroke="#000" stroke-width="0.6" fill="none"/>
<path d="M829.6 374.6H833.4M831.5 372.7V376.5" stroke="#000" stroke-width="0.6" fill="none"/>
<path d="M833.6 375.0H837.4M835.5 373.1V376.9" stroke="#000" stroke-width="0.6" fill="none"/>
<path d="M836.1 375.0H839.9M838.0 373.1V376.9" stroke="#000" stroke-width="0.6" fill="none"/>
<path d="M838.1 375.0H841.9M840.0 373.1V376.9" stroke="#000" stroke-width="0.6" fill="none"/>
<path d="M848.1 375.1H851.9M850.0 373.2V377.0" stroke="#000" stroke-width="0.6" fill="none"/>
<path d="M854.6 375.2H858.4M856.5 373.3V377.1" stroke="#000" stroke-width="0.6" fill="none"/>
<path d="M819.2 372.5H823.8M821.5 370.2V374.8" stroke="#000" stroke-width="0.75" fill="none"/>
<line x1="810.3" y1="375.3" x2="915.4" y2="271.2" stroke="#000" stroke-width="1.1"/>
<rect x="810.3" y="271.2" width="105.1" height="104.1" fill="none" stroke="#000" stroke-width="1.0"/>
<line x1="810.3" y1="375.3" x2="810.3" y2="378.8" stroke="#000" stroke-width="0.9"/>
<line x1="810.3" y1="375.3" x2="806.8" y2="375.3" stroke="#000" stroke-width="0.9"/>
<text x="810.5" y="388.7" font-size="9.4" text-anchor="middle" textLength="4.6" lengthAdjust="spacingAndGlyphs">0</text>
<text x="803.4" y="378.0" font-size="9.4" text-anchor="end" textLength="4.3" lengthAdjust="spacingAndGlyphs">0</text>
<line x1="814.5" y1="375.3" x2="814.5" y2="377.3" stroke="#000" stroke-width="0.9"/>
<line x1="810.3" y1="371.1" x2="808.3" y2="371.1" stroke="#000" stroke-width="0.9"/>
<line x1="818.7" y1="375.3" x2="818.7" y2="377.3" stroke="#000" stroke-width="0.9"/>
<line x1="810.3" y1="367.0" x2="808.3" y2="367.0" stroke="#000" stroke-width="0.9"/>
<line x1="822.9" y1="375.3" x2="822.9" y2="377.3" stroke="#000" stroke-width="0.9"/>
<line x1="810.3" y1="362.8" x2="808.3" y2="362.8" stroke="#000" stroke-width="0.9"/>
<line x1="827.1" y1="375.3" x2="827.1" y2="377.3" stroke="#000" stroke-width="0.9"/>
<line x1="810.3" y1="358.6" x2="808.3" y2="358.6" stroke="#000" stroke-width="0.9"/>
<line x1="831.3" y1="375.3" x2="831.3" y2="378.8" stroke="#000" stroke-width="0.9"/>
<line x1="810.3" y1="354.5" x2="806.8" y2="354.5" stroke="#000" stroke-width="0.9"/>
<text x="831.5" y="388.7" font-size="9.4" text-anchor="middle" textLength="7.8" lengthAdjust="spacingAndGlyphs">10</text>
<text x="803.4" y="357.2" font-size="9.4" text-anchor="end" textLength="8.7" lengthAdjust="spacingAndGlyphs">10</text>
<line x1="835.5" y1="375.3" x2="835.5" y2="377.3" stroke="#000" stroke-width="0.9"/>
<line x1="810.3" y1="350.3" x2="808.3" y2="350.3" stroke="#000" stroke-width="0.9"/>
<line x1="839.7" y1="375.3" x2="839.7" y2="377.3" stroke="#000" stroke-width="0.9"/>
<line x1="810.3" y1="346.2" x2="808.3" y2="346.2" stroke="#000" stroke-width="0.9"/>
<line x1="843.9" y1="375.3" x2="843.9" y2="377.3" stroke="#000" stroke-width="0.9"/>
<line x1="810.3" y1="342.0" x2="808.3" y2="342.0" stroke="#000" stroke-width="0.9"/>
<line x1="848.1" y1="375.3" x2="848.1" y2="377.3" stroke="#000" stroke-width="0.9"/>
<line x1="810.3" y1="337.8" x2="808.3" y2="337.8" stroke="#000" stroke-width="0.9"/>
<line x1="852.3" y1="375.3" x2="852.3" y2="378.8" stroke="#000" stroke-width="0.9"/>
<line x1="810.3" y1="333.7" x2="806.8" y2="333.7" stroke="#000" stroke-width="0.9"/>
<text x="852.5" y="388.7" font-size="9.4" text-anchor="middle" textLength="7.8" lengthAdjust="spacingAndGlyphs">20</text>
<text x="803.4" y="336.4" font-size="9.4" text-anchor="end" textLength="8.7" lengthAdjust="spacingAndGlyphs">20</text>
<line x1="856.5" y1="375.3" x2="856.5" y2="377.3" stroke="#000" stroke-width="0.9"/>
<line x1="810.3" y1="329.5" x2="808.3" y2="329.5" stroke="#000" stroke-width="0.9"/>
<line x1="860.7" y1="375.3" x2="860.7" y2="377.3" stroke="#000" stroke-width="0.9"/>
<line x1="810.3" y1="325.3" x2="808.3" y2="325.3" stroke="#000" stroke-width="0.9"/>
<line x1="865.0" y1="375.3" x2="865.0" y2="377.3" stroke="#000" stroke-width="0.9"/>
<line x1="810.3" y1="321.2" x2="808.3" y2="321.2" stroke="#000" stroke-width="0.9"/>
<line x1="869.2" y1="375.3" x2="869.2" y2="377.3" stroke="#000" stroke-width="0.9"/>
<line x1="810.3" y1="317.0" x2="808.3" y2="317.0" stroke="#000" stroke-width="0.9"/>
<line x1="873.4" y1="375.3" x2="873.4" y2="378.8" stroke="#000" stroke-width="0.9"/>
<line x1="810.3" y1="312.8" x2="806.8" y2="312.8" stroke="#000" stroke-width="0.9"/>
<text x="873.6" y="388.7" font-size="9.4" text-anchor="middle" textLength="7.8" lengthAdjust="spacingAndGlyphs">30</text>
<text x="803.4" y="315.5" font-size="9.4" text-anchor="end" textLength="8.7" lengthAdjust="spacingAndGlyphs">30</text>
<line x1="877.6" y1="375.3" x2="877.6" y2="377.3" stroke="#000" stroke-width="0.9"/>
<line x1="810.3" y1="308.7" x2="808.3" y2="308.7" stroke="#000" stroke-width="0.9"/>
<line x1="881.8" y1="375.3" x2="881.8" y2="377.3" stroke="#000" stroke-width="0.9"/>
<line x1="810.3" y1="304.5" x2="808.3" y2="304.5" stroke="#000" stroke-width="0.9"/>
<line x1="886.0" y1="375.3" x2="886.0" y2="377.3" stroke="#000" stroke-width="0.9"/>
<line x1="810.3" y1="300.3" x2="808.3" y2="300.3" stroke="#000" stroke-width="0.9"/>
<line x1="890.2" y1="375.3" x2="890.2" y2="377.3" stroke="#000" stroke-width="0.9"/>
<line x1="810.3" y1="296.2" x2="808.3" y2="296.2" stroke="#000" stroke-width="0.9"/>
<line x1="894.4" y1="375.3" x2="894.4" y2="378.8" stroke="#000" stroke-width="0.9"/>
<line x1="810.3" y1="292.0" x2="806.8" y2="292.0" stroke="#000" stroke-width="0.9"/>
<text x="894.6" y="388.7" font-size="9.4" text-anchor="middle" textLength="7.8" lengthAdjust="spacingAndGlyphs">40</text>
<text x="803.4" y="294.7" font-size="9.4" text-anchor="end" textLength="8.7" lengthAdjust="spacingAndGlyphs">40</text>
<line x1="898.6" y1="375.3" x2="898.6" y2="377.3" stroke="#000" stroke-width="0.9"/>
<line x1="810.3" y1="287.9" x2="808.3" y2="287.9" stroke="#000" stroke-width="0.9"/>
<line x1="902.8" y1="375.3" x2="902.8" y2="377.3" stroke="#000" stroke-width="0.9"/>
<line x1="810.3" y1="283.7" x2="808.3" y2="283.7" stroke="#000" stroke-width="0.9"/>
<line x1="907.0" y1="375.3" x2="907.0" y2="377.3" stroke="#000" stroke-width="0.9"/>
<line x1="810.3" y1="279.5" x2="808.3" y2="279.5" stroke="#000" stroke-width="0.9"/>
<line x1="911.2" y1="375.3" x2="911.2" y2="377.3" stroke="#000" stroke-width="0.9"/>
<line x1="810.3" y1="275.4" x2="808.3" y2="275.4" stroke="#000" stroke-width="0.9"/>
<line x1="915.4" y1="375.3" x2="915.4" y2="378.8" stroke="#000" stroke-width="0.9"/>
<line x1="810.3" y1="271.2" x2="806.8" y2="271.2" stroke="#000" stroke-width="0.9"/>
<text x="915.6" y="388.7" font-size="9.4" text-anchor="middle" textLength="7.8" lengthAdjust="spacingAndGlyphs">50</text>
<text x="803.4" y="273.9" font-size="9.4" text-anchor="end" textLength="8.7" lengthAdjust="spacingAndGlyphs">50</text>
<text x="861.5" y="398.8" font-size="10.3" text-anchor="middle" textLength="46.0" lengthAdjust="spacingAndGlyphs">ANALYSIS</text>
<text x="790.8" y="324.0" font-size="10.3" text-anchor="middle" textLength="85.8" lengthAdjust="spacingAndGlyphs" transform="rotate(-90 790.8 324.0)">GSMAP_NRT_1HR</text>
<rect x="972.4" y="377.6" width="21.0" height="36.2" fill="#ffe8ba"/>
<rect x="972.4" y="341.2" width="21.0" height="36.6" fill="#d9ffc6"/>
<rect x="972.4" y="304.7" width="21.0" height="36.6" fill="#99fb98"/>
<rect x="972.4" y="268.3" width="21.0" height="36.6" fill="#66ffff"/>
<rect x="972.4" y="231.9" width="21.0" height="36.6" fill="#00bfff"/>
<rect x="972.4" y="195.5" width="21.0" height="36.6" fill="#0066ff"/>
<rect x="972.4" y="159.1" width="21.0" height="36.6" fill="#9966ff"/>
<rect x="972.4" y="122.6" width="21.0" height="36.6" fill="#dd66ff"/>
<rect x="972.4" y="86.2" width="21.0" height="36.6" fill="#ff00ff"/>
<rect x="972.4" y="49.4" width="21.0" height="37.0" fill="#cf9b45"/>
<path d="M972.4 49.4 L982.7 30.6 L993.4 49.4 Z" fill="#000" stroke="#000" stroke-width="1"/>
<path d="M972.4 49.4 V413.6 H993.4 V49.4" fill="none" stroke="#000" stroke-width="1"/>
<line x1="993.9" y1="413.6" x2="998.6" y2="413.6" stroke="#000" stroke-width="1.0"/>
<text x="1001.3" y="418.1" font-size="12.0" textLength="6.5" lengthAdjust="spacingAndGlyphs">0</text>
<line x1="993.9" y1="377.2" x2="998.6" y2="377.2" stroke="#000" stroke-width="1.0"/>
<text x="1001.3" y="381.7" font-size="12.0" textLength="24.0" lengthAdjust="spacingAndGlyphs">0.01</text>
<line x1="993.9" y1="340.8" x2="998.6" y2="340.8" stroke="#000" stroke-width="1.0"/>
<text x="1001.3" y="345.3" font-size="12.0" textLength="17.2" lengthAdjust="spacingAndGlyphs">0.5</text>
<line x1="993.9" y1="304.3" x2="998.6" y2="304.3" stroke="#000" stroke-width="1.0"/>
<text x="1001.3" y="308.8" font-size="12.0" textLength="6.5" lengthAdjust="spacingAndGlyphs">1</text>
<line x1="993.9" y1="267.9" x2="998.6" y2="267.9" stroke="#000" stroke-width="1.0"/>
<text x="1001.3" y="272.4" font-size="12.0" textLength="6.5" lengthAdjust="spacingAndGlyphs">2</text>
<line x1="993.9" y1="231.5" x2="998.6" y2="231.5" stroke="#000" stroke-width="1.0"/>
<text x="1001.3" y="236.0" font-size="12.0" textLength="6.5" lengthAdjust="spacingAndGlyphs">3</text>
<line x1="993.9" y1="195.1" x2="998.6" y2="195.1" stroke="#000" stroke-width="1.0"/>
<text x="1001.3" y="199.6" font-size="12.0" textLength="6.5" lengthAdjust="spacingAndGlyphs">4</text>
<line x1="993.9" y1="158.7" x2="998.6" y2="158.7" stroke="#000" stroke-width="1.0"/>
<text x="1001.3" y="163.2" font-size="12.0" textLength="6.5" lengthAdjust="spacingAndGlyphs">5</text>
<line x1="993.9" y1="122.2" x2="998.6" y2="122.2" stroke="#000" stroke-width="1.0"/>
<text x="1001.3" y="126.7" font-size="12.0" textLength="13.0" lengthAdjust="spacingAndGlyphs">10</text>
<line x1="993.9" y1="85.8" x2="998.6" y2="85.8" stroke="#000" stroke-width="1.0"/>
<text x="1001.3" y="90.3" font-size="12.0" textLength="13.0" lengthAdjust="spacingAndGlyphs">25</text>
<line x1="993.9" y1="49.4" x2="998.6" y2="49.4" stroke="#000" stroke-width="1.0"/>
<text x="1001.3" y="53.9" font-size="12.0" textLength="13.0" lengthAdjust="spacingAndGlyphs">50</text>
<rect x="74.3" y="452.0" width="114.2" height="18.5" fill="#ffe8ba" stroke="#000" stroke-width="0.7"/>
<rect x="188.5" y="452.0" width="12.0" height="18.5" fill="#d9ffc6" stroke="#000" stroke-width="0.7"/>
<rect x="200.5" y="452.0" width="1.7" height="18.5" fill="#99fb98" stroke="#000" stroke-width="0.35"/>
<rect x="202.2" y="452.0" width="1.6" height="18.5" fill="#66ffff" stroke="#000" stroke-width="0.35"/>
<rect x="203.8" y="452.0" width="2.6" height="18.5" fill="#00bfff" stroke="#000" stroke-width="0.35"/>
<rect x="206.4" y="452.0" width="0.8" height="18.5" fill="#0066ff" stroke="#000" stroke-width="0.35"/>
<rect x="207.2" y="452.0" width="0.3" height="18.5" fill="#9966ff" stroke="#000" stroke-width="0.35"/>
<rect x="207.5" y="452.0" width="0.3" height="18.5" fill="#dd66ff" stroke="#000" stroke-width="0.35"/>
<rect x="207.8" y="452.0" width="0.2" height="18.5" fill="#ff00ff" stroke="#000" stroke-width="0.35"/>
<rect x="74.3" y="452.0" width="133.7" height="18.5" fill="none" stroke="#000" stroke-width="0.7"/>
<rect x="74.3" y="479.2" width="97.2" height="18.2" fill="#ffe8ba" stroke="#000" stroke-width="0.7"/>
<rect x="171.5" y="479.2" width="23.9" height="18.2" fill="#d9ffc6" stroke="#000" stroke-width="0.7"/>
<rect x="195.4" y="479.2" width="5.2" height="18.2" fill="#99fb98" stroke="#000" stroke-width="0.7"/>
<rect x="200.6" y="479.2" width="2.9" height="18.2" fill="#66ffff" stroke="#000" stroke-width="0.35"/>
<rect x="203.5" y="479.2" width="0.9" height="18.2" fill="#2a2a7a" stroke="#000" stroke-width="0.35"/>
<rect x="204.4" y="479.2" width="0.9" height="18.2" fill="#3b1d5e" stroke="#000" stroke-width="0.35"/>
<rect x="205.3" y="479.2" width="0.9" height="18.2" fill="#3b1d5e" stroke="#000" stroke-width="0.35"/>
<rect x="206.2" y="479.2" width="0.9" height="18.2" fill="#3b1d5e" stroke="#000" stroke-width="0.35"/>
<rect x="207.1" y="479.2" width="0.9" height="18.2" fill="#3b1d5e" stroke="#000" stroke-width="0.35"/>
<rect x="74.3" y="479.2" width="133.7" height="18.2" fill="none" stroke="#000" stroke-width="0.7"/>
<line x1="188.5" y1="470.5" x2="171.5" y2="479.2" stroke="#000" stroke-width="0.6"/>
<line x1="200.5" y1="470.5" x2="195.4" y2="479.2" stroke="#000" stroke-width="0.6"/>
<line x1="202.2" y1="470.5" x2="200.6" y2="479.2" stroke="#000" stroke-width="0.6"/>
<line x1="203.8" y1="470.5" x2="203.5" y2="479.2" stroke="#000" stroke-width="0.6"/>
<line x1="206.4" y1="470.5" x2="204.4" y2="479.2" stroke="#000" stroke-width="0.6"/>
<line x1="207.2" y1="470.5" x2="205.3" y2="479.2" stroke="#000" stroke-width="0.6"/>
<line x1="207.5" y1="470.5" x2="206.2" y2="479.2" stroke="#000" stroke-width="0.6"/>
<line x1="207.8" y1="470.5" x2="207.1" y2="479.2" stroke="#000" stroke-width="0.6"/>
<line x1="208.0" y1="470.5" x2="208.0" y2="479.2" stroke="#000" stroke-width="0.6"/>
<line x1="74.3" y1="470.5" x2="74.3" y2="479.2" stroke="#000" stroke-width="0.7"/>
<line x1="208.0" y1="470.5" x2="208.0" y2="479.2" stroke="#000" stroke-width="0.7"/>
<text x="140.2" y="446.8" font-size="10.3" text-anchor="middle" textLength="144.0" lengthAdjust="spacingAndGlyphs">Hourly fraction by occurence</text>
<text x="47.4" y="465.7" font-size="10.3" textLength="14.6" lengthAdjust="spacingAndGlyphs">Est</text>
<text x="47.8" y="492.7" font-size="10.3" textLength="18.2" lengthAdjust="spacingAndGlyphs">Obs</text>
<text x="58.1" y="509.4" font-size="10.3" textLength="15.2" lengthAdjust="spacingAndGlyphs">0%</text>
<text x="135.5" y="509.4" font-size="10.3" text-anchor="middle" textLength="67.0" lengthAdjust="spacingAndGlyphs">Areal fraction</text>
<text x="195.2" y="509.4" font-size="10.3" textLength="27.2" lengthAdjust="spacingAndGlyphs">100%</text>
<rect x="74.3" y="533.3" width="5.9" height="18.0" fill="#d9ffc6" stroke="#000" stroke-width="0.7"/>
<rect x="80.2" y="533.3" width="7.0" height="18.0" fill="#99fb98" stroke="#000" stroke-width="0.7"/>
<rect x="87.2" y="533.3" width="11.5" height="18.0" fill="#66ffff" stroke="#000" stroke-width="0.7"/>
<rect x="98.7" y="533.3" width="12.6" height="18.0" fill="#00bfff" stroke="#000" stroke-width="0.7"/>
<rect x="111.3" y="533.3" width="12.4" height="18.0" fill="#0066ff" stroke="#000" stroke-width="0.7"/>
<rect x="123.7" y="533.3" width="0.9" height="18.0" fill="#0a1a55" stroke="#000" stroke-width="0.35"/>
<rect x="74.3" y="533.3" width="50.3" height="18.0" fill="none" stroke="#000" stroke-width="0.7"/>
<rect x="74.3" y="560.5" width="18.1" height="17.8" fill="#d9ffc6" stroke="#000" stroke-width="0.7"/>
<rect x="92.4" y="560.5" width="12.8" height="17.8" fill="#99fb98" stroke="#000" stroke-width="0.7"/>
<rect x="105.2" y="560.5" width="17.2" height="17.8" fill="#66ffff" stroke="#000" stroke-width="0.7"/>
<rect x="122.4" y="560.5" width="12.0" height="17.8" fill="#00bfff" stroke="#000" stroke-width="0.7"/>
<rect x="134.4" y="560.5" width="8.0" height="17.8" fill="#0066ff" stroke="#000" stroke-width="0.7"/>
<rect x="142.4" y="560.5" width="8.2" height="17.8" fill="#9966ff" stroke="#000" stroke-width="0.7"/>
<rect x="150.6" y="560.5" width="20.0" height="17.8" fill="#dd66ff" stroke="#000" stroke-width="0.7"/>
<rect x="170.6" y="560.5" width="25.9" height="17.8" fill="#ff00ff" stroke="#000" stroke-width="0.7"/>
<rect x="196.5" y="560.5" width="11.1" height="17.8" fill="#cf9b45" stroke="#000" stroke-width="0.7"/>
<rect x="74.3" y="560.5" width="133.3" height="17.8" fill="none" stroke="#000" stroke-width="0.7"/>
<line x1="74.3" y1="551.3" x2="74.3" y2="560.5" stroke="#000" stroke-width="0.6"/>
<line x1="80.2" y1="551.3" x2="92.4" y2="560.5" stroke="#000" stroke-width="0.6"/>
<line x1="87.2" y1="551.3" x2="105.2" y2="560.5" stroke="#000" stroke-width="0.6"/>
<line x1="98.7" y1="551.3" x2="122.4" y2="560.5" stroke="#000" stroke-width="0.6"/>
<line x1="111.3" y1="551.3" x2="134.4" y2="560.5" stroke="#000" stroke-width="0.6"/>
<line x1="123.7" y1="551.3" x2="142.4" y2="560.5" stroke="#000" stroke-width="0.6"/>
<line x1="124.6" y1="551.3" x2="150.6" y2="560.5" stroke="#000" stroke-width="0.6"/>
<line x1="124.6" y1="551.3" x2="170.6" y2="560.5" stroke="#000" stroke-width="0.6"/>
<line x1="124.6" y1="551.3" x2="196.5" y2="560.5" stroke="#000" stroke-width="0.6"/>
<line x1="124.6" y1="551.3" x2="207.6" y2="560.5" stroke="#000" stroke-width="0.6"/>
<text x="139.8" y="527.7" font-size="10.3" text-anchor="middle" textLength="134.8" lengthAdjust="spacingAndGlyphs">Hourly fraction of total rain</text>
<text x="47.4" y="546.6" font-size="10.3" textLength="14.6" lengthAdjust="spacingAndGlyphs">Est</text>
<text x="47.8" y="573.7" font-size="10.3" textLength="18.2" lengthAdjust="spacingAndGlyphs">Obs</text>
<text x="140.8" y="589.4" font-size="10.3" text-anchor="middle" textLength="164.5" lengthAdjust="spacingAndGlyphs">Rainfall accumulation by amount</text>
<rect x="277.3" y="478.4" width="124.3" height="95.1" fill="none" stroke="#000" stroke-width="1.0"/>
<line x1="339.6" y1="478.4" x2="339.6" y2="573.5" stroke="#000" stroke-width="1.0"/>
<line x1="277.3" y1="526.2" x2="401.6" y2="526.2" stroke="#000" stroke-width="1.0"/>
<text x="338.8" y="455.1" font-size="10.3" text-anchor="middle" textLength="85.1" lengthAdjust="spacingAndGlyphs">GSMAP_NRT_1HR</text>
<text x="308.2" y="470.0" font-size="10.3" text-anchor="middle" textLength="29.9" lengthAdjust="spacingAndGlyphs">&lt;0.01</text>
<text x="369.8" y="470.0" font-size="10.3" text-anchor="middle" textLength="28.5" lengthAdjust="spacingAndGlyphs">≥0.01</text>
<text x="274.9" y="506.1" font-size="10.3" text-anchor="end" textLength="28.9" lengthAdjust="spacingAndGlyphs">&lt;0.01</text>
<text x="274.9" y="553.2" font-size="10.3" text-anchor="end" textLength="28.9" lengthAdjust="spacingAndGlyphs">≥0.01</text>
<text x="246.2" y="520.4" font-size="10.3" text-anchor="middle" textLength="45.9" lengthAdjust="spacingAndGlyphs" transform="rotate(-90 246.2 520.4)">ANALYSIS</text>
<text x="308.1" y="506.1" font-size="10.3" text-anchor="middle" textLength="23.8" lengthAdjust="spacingAndGlyphs">2834</text>
<text x="371.0" y="506.1" font-size="10.3" text-anchor="middle" textLength="11.3" lengthAdjust="spacingAndGlyphs">69</text>
<text x="308.1" y="553.2" font-size="10.3" text-anchor="middle" textLength="17.4" lengthAdjust="spacingAndGlyphs">124</text>
<text x="371.0" y="553.2" font-size="10.3" text-anchor="middle" textLength="11.3" lengthAdjust="spacingAndGlyphs">30</text>
<text x="460.4" y="453.5" font-size="10.3" textLength="393.0" lengthAdjust="spacingAndGlyphs" xml:space="preserve">Validation statistics for 20260331 16  n=3057 Valid. grid=0.25° Units=mm/hr.</text>
<line x1="457.5" y1="457.3" x2="997.2" y2="457.3" stroke="#000" stroke-width="0.9" stroke-dasharray="3.4 1.5"/>
<text x="632.5" y="475.0" font-size="10.3" text-anchor="middle" textLength="46.8" lengthAdjust="spacingAndGlyphs">ANALYSIS</text>
<text x="713.4" y="475.0" font-size="10.3" text-anchor="middle" textLength="85.4" lengthAdjust="spacingAndGlyphs">GSMAP_NRT_1HR</text>
<line x1="457.5" y1="480.3" x2="758.1" y2="480.3" stroke="#000" stroke-width="0.9" stroke-dasharray="3.4 1.5"/>
<text x="460.4" y="499.3" font-size="10.3" textLength="127.4" lengthAdjust="spacingAndGlyphs">Num of gridpoints raining</text>
<text x="648.3" y="499.3" font-size="10.3" text-anchor="end" textLength="17.8" lengthAdjust="spacingAndGlyphs">154</text>
<text x="729.1" y="499.3" font-size="10.3" text-anchor="end" textLength="11.8" lengthAdjust="spacingAndGlyphs">99</text>
<text x="460.4" y="518.9" font-size="10.3" textLength="63.7" lengthAdjust="spacingAndGlyphs">Average rain</text>
<text x="648.3" y="518.9" font-size="10.3" text-anchor="end" textLength="14.8" lengthAdjust="spacingAndGlyphs">0.3</text>
<text x="729.1" y="518.9" font-size="10.3" text-anchor="end" textLength="15.4" lengthAdjust="spacingAndGlyphs">0.1</text>
<text x="460.4" y="538.7" font-size="10.3" textLength="78.5" lengthAdjust="spacingAndGlyphs">Conditional rain</text>
<text x="648.3" y="538.7" font-size="10.3" text-anchor="end" textLength="15.1" lengthAdjust="spacingAndGlyphs">5.1</text>
<text x="730.0" y="538.7" font-size="10.3" text-anchor="end" textLength="15.4" lengthAdjust="spacingAndGlyphs">3.0</text>
<text x="648.3" y="558.9" font-size="10.3" text-anchor="end" textLength="14.8" lengthAdjust="spacingAndGlyphs">0.5</text>
<text x="729.1" y="558.9" font-size="10.3" text-anchor="end" textLength="15.4" lengthAdjust="spacingAndGlyphs">0.2</text>
<text x="460.4" y="577.8" font-size="10.3" textLength="70.5" lengthAdjust="spacingAndGlyphs">Maximum rain</text>
<text x="648.3" y="577.8" font-size="10.3" text-anchor="end" textLength="21.6" lengthAdjust="spacingAndGlyphs">39.0</text>
<text x="729.1" y="577.8" font-size="10.3" text-anchor="end" textLength="15.4" lengthAdjust="spacingAndGlyphs">4.9</text>
<text x="461.3" y="558.9" font-size="10.3" textLength="133.0" lengthAdjust="spacingAndGlyphs">Rain volume (mm km<tspan font-size="7.2" dy="-3.6">2</tspan><tspan dy="3.6">10</tspan><tspan font-size="7.2" dy="-3.6">6</tspan><tspan dy="3.6">)</tspan></text>
<text x="784.3" y="471.4" font-size="10.3" textLength="114.8" lengthAdjust="spacingAndGlyphs" xml:space="preserve">Mean abs error =    0.3</text>
<text x="784.3" y="488.9" font-size="10.3" textLength="88.7" lengthAdjust="spacingAndGlyphs" xml:space="preserve">RMS error =    1.4</text>
<text x="784.3" y="505.9" font-size="10.3" textLength="128.7" lengthAdjust="spacingAndGlyphs" xml:space="preserve">Correlation coeff =  0.085</text>
<text x="784.3" y="522.9" font-size="10.3" textLength="121.6" lengthAdjust="spacingAndGlyphs" xml:space="preserve">Frequency bias =  0.643</text>
<text x="784.3" y="539.9" font-size="10.3" textLength="161.9" lengthAdjust="spacingAndGlyphs" xml:space="preserve">Probability of detection =  0.195</text>
<text x="784.3" y="556.9" font-size="10.3" textLength="130.0" lengthAdjust="spacingAndGlyphs" xml:space="preserve">False alarm ratio =  0.697</text>
<text x="784.3" y="573.9" font-size="10.3" textLength="170.0" lengthAdjust="spacingAndGlyphs" xml:space="preserve">Hanssen &amp; Kuipers score =  0.171</text>
<text x="784.3" y="590.9" font-size="10.3" textLength="156.1" lengthAdjust="spacingAndGlyphs" xml:space="preserve">Equitable threat score =  0.115</text>
</svg>
</body></html>
